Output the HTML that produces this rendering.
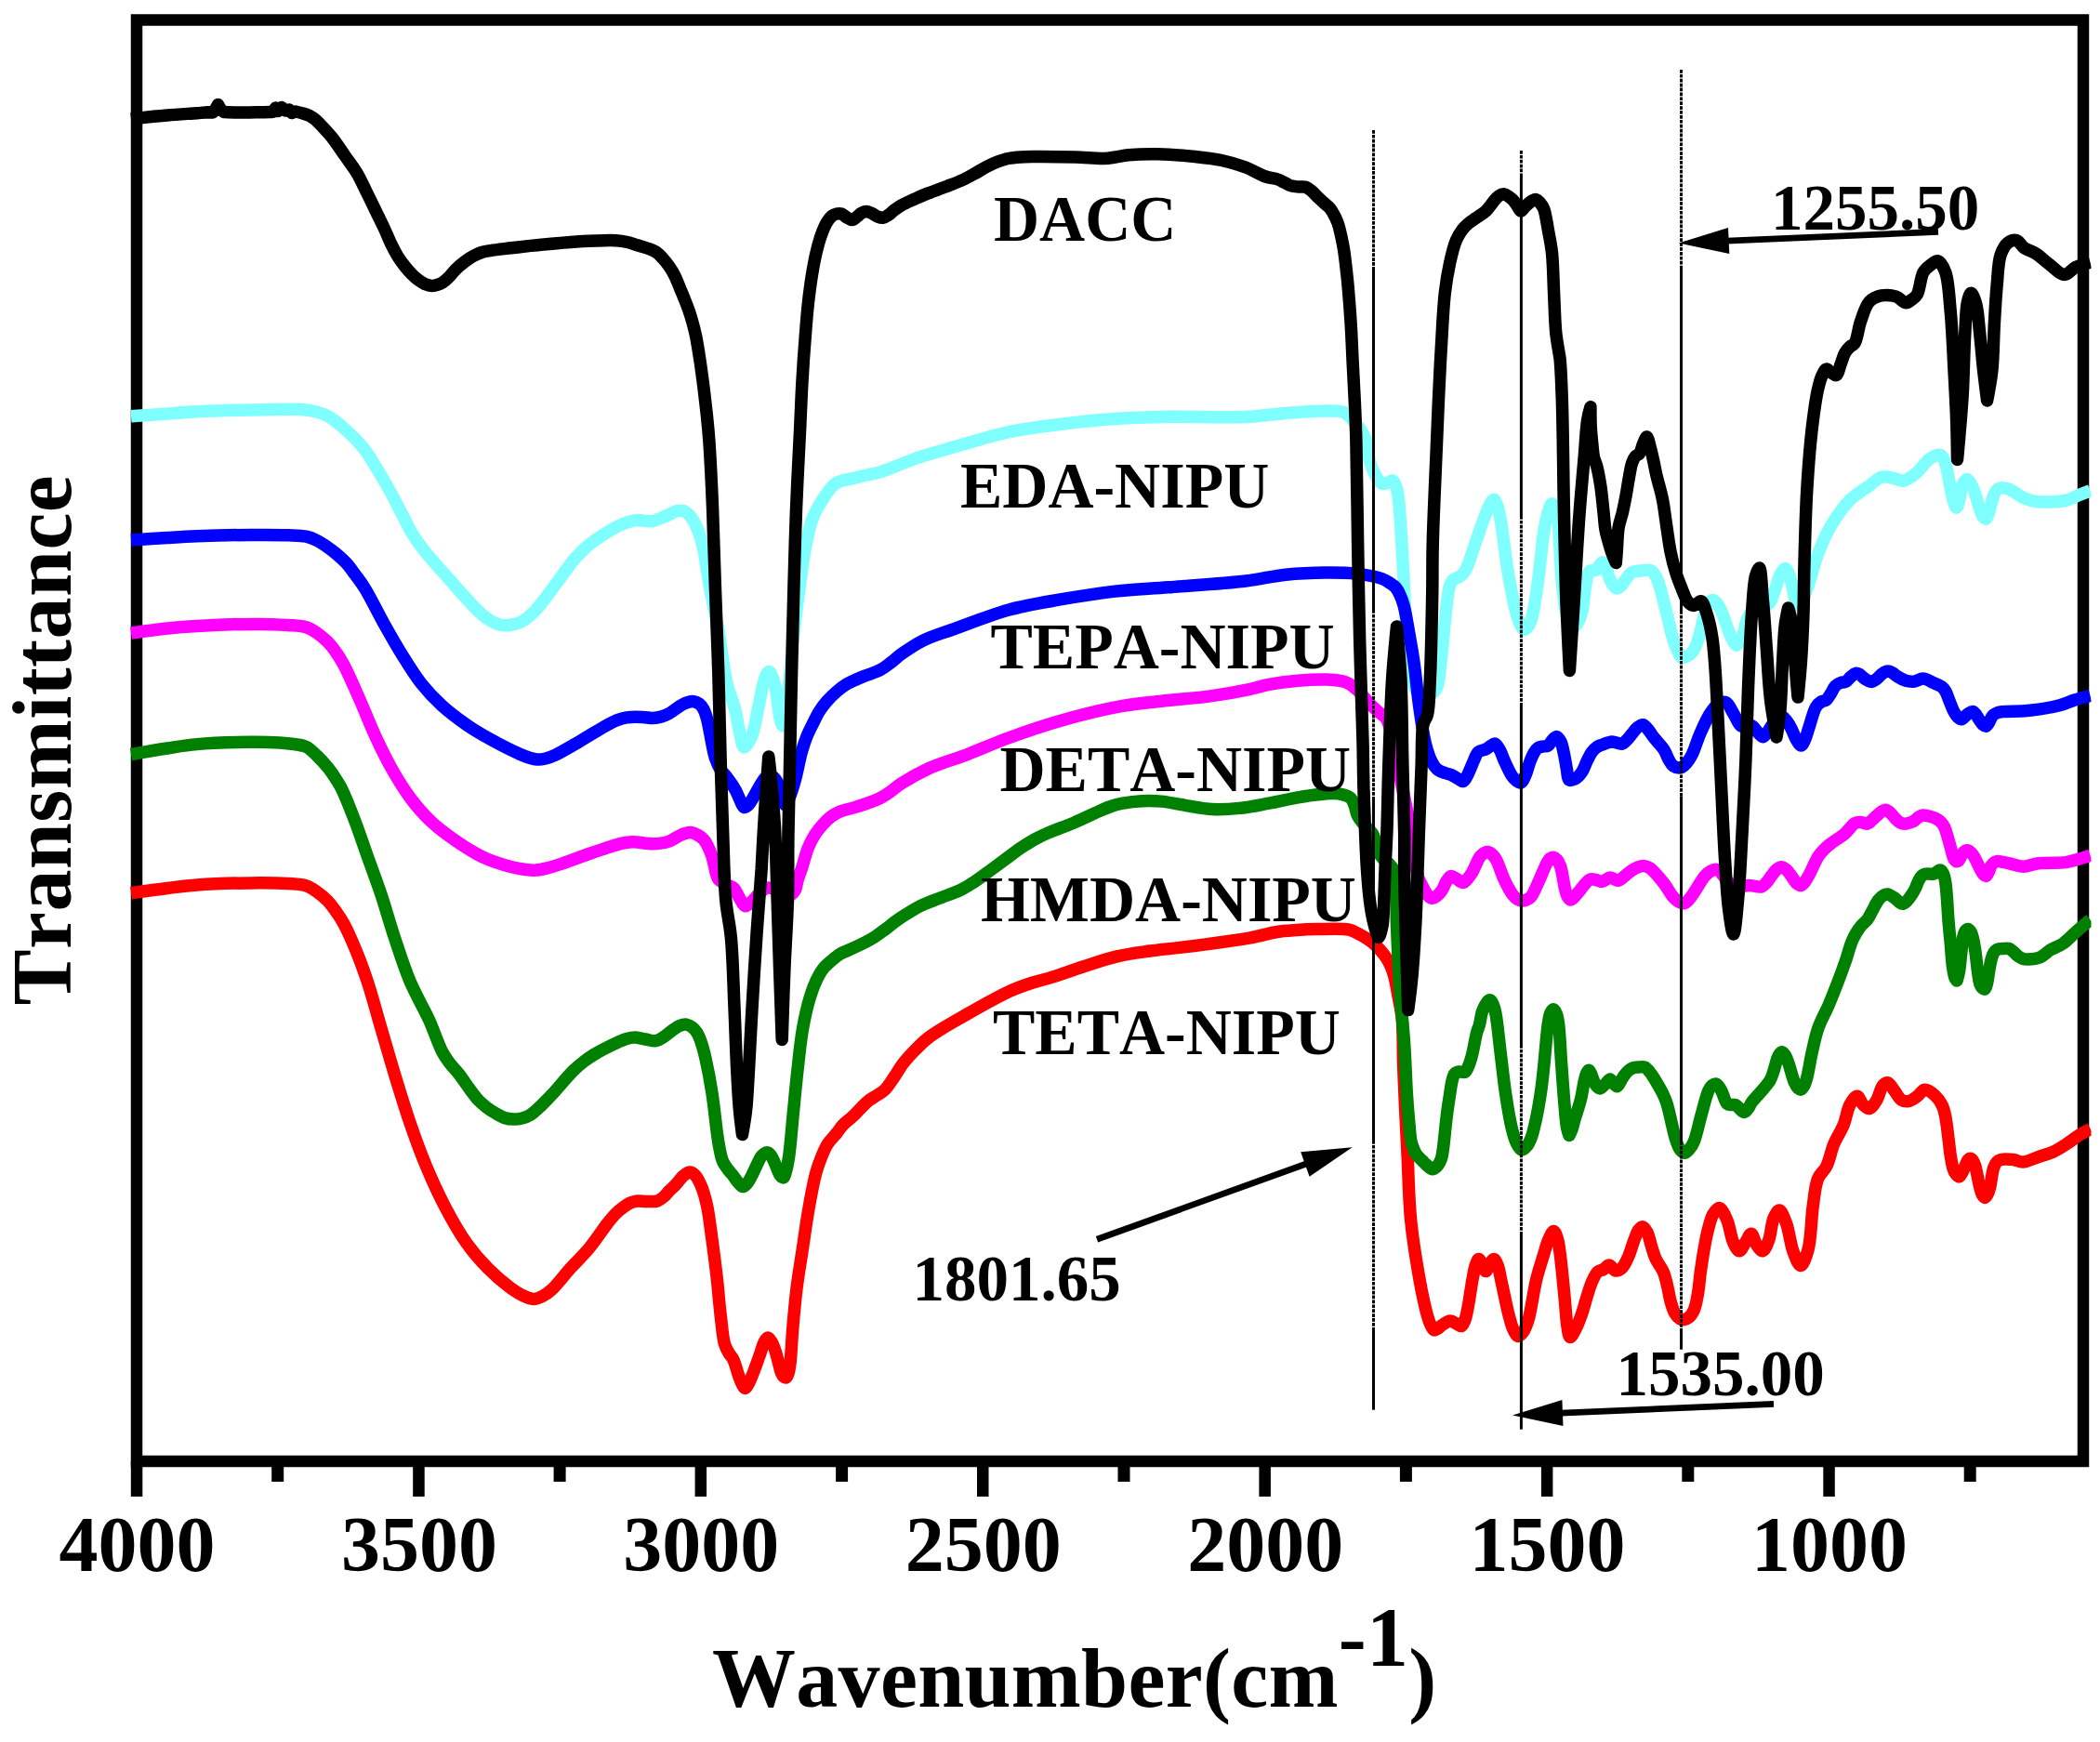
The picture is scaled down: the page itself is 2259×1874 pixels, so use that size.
<!DOCTYPE html><html><head><meta charset="utf-8"><title>FTIR</title><style>html,body{margin:0;padding:0;background:#fff}body{width:2259px;height:1874px;overflow:hidden}</style></head><body><svg width="2259" height="1874" viewBox="0 0 2259 1874" style="display:block">
<rect width="2259" height="1874" fill="#fff"/>
<rect x="147" y="21.5" width="2094" height="1550.5" fill="none" stroke="#000" stroke-width="12.5"/>
<rect x="140.8" y="1572" width="12.5" height="38" fill="#000"/>
<rect x="444.2" y="1572" width="12.5" height="38" fill="#000"/>
<rect x="747.6" y="1572" width="12.5" height="38" fill="#000"/>
<rect x="1051.0" y="1572" width="12.5" height="38" fill="#000"/>
<rect x="1354.4" y="1572" width="12.5" height="38" fill="#000"/>
<rect x="1657.9" y="1572" width="12.5" height="38" fill="#000"/>
<rect x="1961.3" y="1572" width="12.5" height="38" fill="#000"/>
<rect x="292.2" y="1572" width="13" height="22" fill="#000"/>
<rect x="595.6" y="1572" width="13" height="22" fill="#000"/>
<rect x="899.1" y="1572" width="13" height="22" fill="#000"/>
<rect x="1202.5" y="1572" width="13" height="22" fill="#000"/>
<rect x="1505.9" y="1572" width="13" height="22" fill="#000"/>
<rect x="1809.3" y="1572" width="13" height="22" fill="#000"/>
<rect x="2112.7" y="1572" width="13" height="22" fill="#000"/>
<g clip-path="url(#cl)">
<clipPath id="cl"><rect x="139" y="0" width="2110.5" height="1874"/></clipPath>
<path d="M141.0 447.8C141.0 447.8 167.7 445.9 180.0 445.0C191.1 444.2 199.6 443.3 211.8 442.7C228.1 441.9 250.1 441.3 269.2 441.0C288.3 440.7 314.8 439.8 326.6 440.7C331.9 441.1 334.2 441.6 338.0 442.5C341.9 443.4 345.9 444.5 349.6 446.2C353.3 447.9 356.7 450.1 360.0 452.5C363.4 454.9 366.5 457.7 369.7 460.5C373.1 463.5 376.7 466.7 380.0 470.0C383.4 473.4 386.9 477.0 389.8 480.6C392.5 483.9 394.7 487.0 397.0 490.5C399.5 494.2 401.3 497.5 404.1 502.1C408.1 508.7 413.8 518.1 418.5 526.5C423.4 535.3 428.4 545.3 432.9 553.8C436.8 561.3 440.0 568.5 444.0 575.0C447.7 581.0 450.8 585.3 455.8 591.6C463.1 600.9 475.1 614.0 484.5 624.6C493.3 634.5 504.0 646.7 510.4 653.3C514.0 657.0 516.0 659.0 519.0 661.5C521.8 663.8 524.7 666.0 527.6 667.7C530.2 669.3 532.8 670.6 535.5 671.5C538.1 672.3 540.8 672.7 543.4 672.8C546.0 672.9 548.4 672.5 551.0 672.0C553.7 671.5 556.5 670.9 559.2 669.7C562.2 668.4 565.2 666.2 568.0 664.0C570.9 661.7 573.2 659.7 576.4 656.2C581.9 650.2 589.9 639.1 596.5 630.3C603.3 621.4 610.7 610.2 616.6 603.1C620.8 598.1 624.1 594.7 628.0 591.0C631.7 587.5 634.8 584.9 639.6 581.5C646.4 576.7 658.6 569.1 665.4 565.7C669.6 563.6 672.5 562.6 676.0 561.5C679.2 560.5 682.4 559.5 685.5 559.4C688.4 559.3 691.1 560.3 694.0 560.5C696.9 560.7 699.8 561.1 702.7 560.6C705.8 560.0 709.0 558.2 712.0 557.0C714.8 555.9 717.4 554.7 720.0 553.5C722.4 552.4 724.5 550.7 727.0 550.0C729.5 549.3 732.6 548.9 735.0 549.6C737.4 550.3 739.5 552.0 741.5 554.0C743.8 556.3 745.8 559.7 747.6 563.0C749.5 566.6 751.0 570.7 752.5 575.0C754.1 579.8 755.3 584.0 756.7 590.5C759.0 600.9 761.0 617.7 763.6 631.8C766.3 646.7 769.9 661.6 772.8 677.8C776.0 695.8 778.4 720.1 782.0 735.2C784.4 745.4 787.7 751.8 790.0 760.4C792.4 769.3 793.8 780.1 795.8 788.0C797.3 794.1 798.1 803.6 800.4 804.0C802.5 804.3 806.1 797.7 808.4 792.6C812.0 784.4 813.8 769.2 816.4 758.1C818.8 747.8 820.6 734.2 823.3 728.3C824.6 725.4 826.1 722.3 827.5 722.5C829.6 722.7 832.0 731.3 833.7 737.5C836.3 746.9 837.2 766.9 839.4 774.2C840.4 777.5 841.5 781.1 842.5 781.0C844.9 780.6 846.7 751.3 848.6 735.2C850.7 717.2 852.3 695.9 854.3 677.8C856.1 661.6 858.0 647.1 860.1 631.8C862.2 616.5 864.3 599.2 867.0 585.9C869.1 575.4 870.8 566.4 874.0 558.0C876.8 550.6 880.5 544.2 884.5 538.0C888.5 531.9 893.6 524.2 897.9 520.8C900.7 518.6 903.2 517.9 906.0 517.0C908.9 516.0 911.7 515.9 915.1 515.1C919.5 514.1 924.9 512.7 930.0 511.5C935.4 510.3 941.1 509.6 946.7 507.9C952.7 506.1 958.9 503.4 965.0 501.0C971.3 498.6 976.3 496.2 984.0 493.5C995.4 489.6 1011.7 485.0 1027.1 480.6C1044.8 475.5 1065.2 468.9 1084.5 464.8C1103.5 460.8 1122.8 458.6 1142.0 456.2C1161.1 453.8 1180.2 451.8 1199.4 450.5C1218.5 449.2 1235.9 448.6 1256.8 448.2C1282.0 447.8 1316.8 449.6 1340.0 448.6C1356.7 447.8 1368.7 445.6 1383.1 444.5C1397.4 443.4 1414.6 441.8 1426.1 441.9C1433.8 442.0 1440.3 441.3 1445.5 443.5C1450.0 445.4 1453.2 449.9 1456.3 453.1C1458.9 455.8 1461.2 458.4 1463.0 461.0C1464.6 463.3 1465.8 465.5 1467.0 468.0C1468.2 470.5 1469.4 472.6 1470.3 476.0C1471.8 481.2 1471.7 490.2 1473.5 496.5C1475.1 502.1 1477.5 507.8 1480.0 512.0C1481.9 515.3 1484.0 519.2 1486.4 520.2C1488.1 520.9 1490.1 520.0 1492.0 519.5C1494.1 519.0 1496.7 516.4 1498.3 517.0C1500.1 517.7 1501.0 521.1 1502.0 524.0C1503.4 528.1 1503.9 532.6 1504.7 539.6C1506.4 553.8 1507.7 582.7 1509.0 604.2C1510.3 625.7 1511.0 648.3 1512.3 668.8C1513.5 687.6 1513.9 709.3 1516.6 722.6C1518.3 730.8 1519.5 737.6 1523.0 742.0C1525.8 745.4 1530.2 748.5 1533.8 748.5C1537.4 748.5 1542.0 745.8 1544.6 742.0C1548.7 736.0 1548.5 722.9 1550.0 711.9C1551.8 698.9 1552.6 682.8 1554.3 668.8C1555.9 655.5 1556.9 637.6 1559.6 630.0C1560.9 626.5 1562.3 624.4 1564.0 623.0C1565.3 622.0 1566.9 622.1 1568.3 621.4C1569.8 620.6 1571.2 619.8 1572.5 618.5C1574.1 617.0 1575.4 615.6 1576.9 612.8C1580.1 606.9 1584.0 592.7 1587.6 582.7C1591.2 572.6 1595.4 559.9 1598.4 552.5C1600.2 548.1 1601.3 544.7 1603.0 542.0C1604.2 540.0 1605.8 537.3 1607.0 537.4C1608.5 537.6 1609.9 541.9 1611.0 545.0C1612.6 549.3 1613.3 554.1 1614.5 561.1C1616.8 573.8 1619.2 598.1 1622.1 615.0C1624.7 630.2 1628.0 647.9 1630.7 658.0C1632.2 663.7 1633.3 667.5 1635.0 671.0C1636.3 673.6 1637.7 677.1 1639.3 677.4C1640.7 677.7 1642.7 675.7 1644.0 674.0C1645.7 671.8 1646.7 668.8 1647.9 664.5C1650.3 656.0 1652.4 639.7 1654.4 625.7C1656.8 609.3 1658.6 585.4 1660.8 571.9C1662.2 563.6 1663.2 557.5 1665.0 552.0C1666.3 548.0 1667.8 542.0 1669.5 541.8C1670.9 541.7 1672.9 545.2 1674.0 548.0C1675.7 552.3 1675.7 558.2 1676.5 566.0C1677.9 580.1 1678.5 608.6 1680.2 625.7C1681.5 638.7 1682.9 650.8 1685.0 660.0C1686.4 666.4 1687.5 675.1 1690.0 676.0C1691.6 676.6 1694.3 674.1 1696.0 672.0C1698.5 669.0 1700.3 663.5 1701.8 658.0C1703.8 650.6 1703.9 638.7 1705.5 630.9C1706.7 624.7 1707.1 617.1 1709.8 614.6C1711.5 613.1 1714.7 614.5 1716.4 613.5C1718.0 612.6 1718.7 610.5 1720.0 609.0C1721.3 607.5 1722.8 604.6 1724.0 604.7C1725.3 604.8 1726.5 607.9 1727.5 610.0C1728.8 612.7 1729.3 616.8 1730.6 620.0C1731.8 623.1 1733.3 626.7 1735.0 629.0C1736.3 630.8 1737.8 633.0 1739.3 633.1C1740.8 633.2 1742.6 631.3 1744.0 630.0C1745.5 628.5 1746.4 626.4 1748.0 624.4C1750.1 621.8 1752.6 617.3 1755.6 615.6C1758.3 614.1 1761.8 614.4 1765.0 614.0C1768.3 613.6 1772.7 612.5 1775.3 613.5C1777.4 614.3 1778.6 616.1 1780.0 618.0C1781.6 620.3 1782.6 622.7 1784.0 626.6C1786.7 633.9 1789.9 648.6 1792.7 659.3C1795.4 669.6 1797.9 682.2 1800.4 689.8C1802.0 694.5 1803.4 697.9 1805.0 701.0C1806.3 703.5 1807.3 706.6 1809.1 707.3C1810.7 708.0 1813.1 706.9 1815.0 706.0C1817.2 704.9 1819.4 702.8 1821.1 700.7C1822.8 698.5 1823.8 695.9 1825.0 693.0C1826.4 689.5 1827.5 685.5 1828.7 681.1C1830.2 675.7 1831.4 668.5 1833.0 663.0C1834.4 658.3 1835.5 653.1 1837.5 650.0C1838.9 647.9 1840.7 645.6 1842.3 645.5C1843.8 645.4 1845.6 647.4 1847.0 649.0C1848.8 651.0 1850.0 653.6 1851.6 657.1C1854.3 662.9 1857.9 675.1 1860.4 681.1C1861.9 684.8 1863.0 687.7 1864.5 690.0C1865.6 691.7 1866.8 694.2 1868.0 694.2C1869.3 694.2 1870.8 691.8 1872.0 690.0C1873.5 687.7 1874.5 684.5 1875.7 681.1C1877.2 676.6 1877.6 669.9 1880.0 665.0C1882.4 660.2 1886.0 654.3 1890.0 652.0C1893.4 650.1 1899.1 652.3 1901.8 650.6C1904.0 649.2 1904.7 646.7 1906.0 644.0C1907.7 640.5 1909.0 635.4 1910.6 631.0C1912.2 626.4 1913.5 620.5 1915.5 617.0C1916.9 614.6 1918.9 611.4 1920.4 611.5C1921.9 611.6 1923.3 615.4 1924.5 618.0C1926.0 621.5 1926.9 626.5 1928.0 630.9C1929.1 635.5 1929.7 641.4 1931.0 645.0C1931.9 647.5 1932.8 650.8 1934.0 651.0C1935.1 651.2 1936.7 649.0 1938.0 647.0C1940.3 643.5 1942.5 637.2 1944.9 630.7C1948.3 621.4 1951.3 607.2 1955.4 596.4C1959.3 586.2 1963.1 576.7 1968.6 567.3C1974.4 557.3 1982.1 546.1 1989.8 538.3C1996.4 531.6 2004.7 527.0 2010.9 522.5C2015.8 519.0 2019.5 514.4 2024.1 513.2C2028.3 512.1 2033.2 513.8 2037.3 514.5C2041.0 515.2 2044.2 517.7 2047.8 517.2C2052.1 516.6 2056.8 512.7 2061.0 509.3C2065.7 505.5 2070.3 498.1 2074.2 494.8C2076.7 492.7 2078.7 491.4 2081.0 490.5C2083.1 489.7 2085.7 488.8 2087.4 489.5C2089.0 490.1 2090.0 492.1 2091.0 494.0C2092.4 496.6 2093.0 499.8 2094.0 504.0C2095.7 510.7 2097.7 523.6 2099.3 530.4C2100.3 534.7 2100.9 538.1 2102.0 541.0C2102.8 543.1 2103.7 546.2 2104.6 546.2C2105.6 546.2 2106.7 541.8 2107.5 539.0C2108.6 535.2 2108.8 528.9 2109.9 525.1C2110.7 522.3 2111.6 519.6 2113.0 518.0C2114.0 516.9 2115.4 515.7 2116.5 515.9C2117.9 516.2 2119.3 518.9 2120.5 521.0C2122.0 523.6 2123.0 526.6 2124.4 530.4C2126.4 536.0 2129.2 546.9 2131.0 551.5C2131.9 553.8 2132.4 555.4 2133.5 556.5C2134.3 557.3 2135.4 558.3 2136.3 558.1C2137.5 557.7 2138.5 554.5 2139.5 552.0C2140.9 548.4 2141.6 542.4 2142.9 538.3C2144.0 534.9 2144.9 531.3 2146.5 529.0C2147.7 527.2 2148.9 525.7 2150.8 525.1C2153.4 524.3 2157.6 525.1 2161.3 526.4C2166.2 528.1 2172.0 533.5 2177.2 535.7C2181.7 537.6 2185.0 538.9 2190.4 539.6C2198.6 540.6 2213.9 540.1 2222.1 538.3C2227.6 537.1 2230.9 534.8 2235.3 533.0C2239.7 531.3 2248.5 527.8 2248.5 527.8" fill="none" stroke="#80ffff" stroke-width="13.5" stroke-linejoin="round" />
<path d="M141.0 581.0C141.0 581.0 167.7 579.2 180.0 578.5C191.1 577.8 199.6 577.2 211.8 576.7C228.1 576.1 251.7 575.6 269.2 575.5C284.0 575.4 298.9 575.4 310.0 575.8C317.7 576.1 323.9 576.0 329.5 577.2C333.9 578.2 337.3 579.7 341.0 581.5C344.9 583.4 348.9 586.2 352.5 588.7C355.9 591.0 358.8 593.3 362.0 596.0C365.5 599.0 369.3 602.3 372.6 605.9C376.0 609.6 378.8 613.7 382.0 618.0C385.5 622.7 388.8 626.9 392.7 633.2C398.6 642.8 406.0 658.4 412.8 670.5C419.4 682.3 426.0 694.0 432.9 705.0C439.4 715.5 445.7 725.9 453.0 735.1C460.0 744.0 467.7 752.1 475.9 759.5C484.0 766.9 492.8 773.4 501.8 779.6C510.9 785.9 520.8 791.6 530.5 796.9C540.0 802.1 552.1 808.1 559.2 811.2C563.3 813.0 565.8 814.0 569.0 815.0C572.0 815.9 574.8 816.8 577.8 817.0C580.8 817.2 583.9 816.7 587.0 816.0C590.2 815.3 592.7 814.4 596.5 812.7C603.1 809.7 613.5 803.4 622.3 798.3C631.7 792.9 643.5 785.3 651.1 781.1C655.9 778.5 659.0 776.6 663.0 775.0C666.7 773.6 669.9 772.5 674.0 771.9C679.1 771.1 686.2 771.3 691.3 771.5C695.3 771.6 698.6 772.6 702.0 772.5C705.2 772.4 708.4 771.9 711.4 771.0C714.4 770.1 716.9 769.0 720.0 767.3C724.2 765.0 730.0 760.1 733.8 758.1C736.2 756.8 737.9 756.1 740.0 755.5C742.1 754.9 744.4 754.4 746.4 754.7C748.4 755.0 750.3 755.8 752.0 757.0C753.8 758.3 755.4 760.4 756.7 762.7C758.3 765.5 759.4 769.2 760.5 773.0C761.8 777.5 762.4 782.2 763.6 788.0C765.2 795.8 767.0 808.2 769.4 815.5C771.1 820.6 772.7 824.4 775.0 828.0C777.0 831.2 779.6 833.0 782.0 836.2C785.0 840.1 788.8 845.6 791.2 850.0C793.2 853.7 794.4 857.3 796.0 860.5C797.4 863.4 798.6 867.9 800.4 868.4C801.8 868.8 803.6 867.2 805.0 866.0C806.8 864.4 807.9 862.0 809.6 859.2C812.2 855.0 816.0 847.2 818.7 843.1C820.5 840.4 821.8 838.1 823.5 836.5C824.9 835.2 826.4 833.9 827.9 833.9C829.4 833.9 831.1 835.2 832.5 836.5C834.2 838.1 835.8 840.3 837.1 843.1C839.0 847.2 840.1 855.0 841.7 859.2C842.8 862.0 843.9 866.0 845.1 866.0C846.6 866.0 848.5 859.9 850.0 856.0C852.0 851.0 853.7 845.1 855.5 838.5C857.8 829.9 860.0 817.2 862.4 808.7C864.2 802.3 865.9 797.2 868.0 792.0C869.9 787.2 872.2 783.0 874.4 778.5C876.7 774.0 878.9 769.1 881.5 765.0C884.0 761.1 886.6 757.7 889.6 754.3C892.7 750.7 896.4 747.1 900.0 744.0C903.3 741.1 906.3 738.7 910.3 736.3C915.3 733.3 922.0 730.6 928.0 728.0C934.1 725.4 941.4 723.6 946.7 720.8C951.1 718.5 954.3 715.8 958.0 713.0C961.9 710.1 965.0 706.9 969.7 703.6C976.0 699.1 984.0 693.5 992.7 689.2C1002.8 684.2 1014.1 681.0 1027.1 676.3C1043.8 670.3 1065.2 661.5 1084.5 656.2C1103.5 651.0 1122.8 648.1 1142.0 644.7C1161.1 641.4 1180.2 638.3 1199.4 636.1C1218.5 634.0 1235.9 633.4 1256.8 631.8C1282.0 629.8 1316.8 627.8 1340.0 625.0C1356.8 623.0 1368.7 619.7 1383.1 618.2C1397.4 616.7 1412.8 616.1 1426.1 616.0C1437.6 615.9 1448.1 615.9 1458.4 617.1C1468.1 618.2 1480.1 620.3 1486.4 622.5C1489.9 623.7 1491.5 624.9 1494.0 626.5C1496.6 628.1 1499.5 629.9 1501.5 632.2C1503.5 634.4 1504.7 637.1 1506.0 640.0C1507.6 643.4 1508.8 646.8 1510.1 651.6C1512.1 658.9 1513.8 669.9 1515.5 679.6C1517.4 690.0 1519.2 700.2 1520.9 711.9C1522.9 725.7 1524.4 742.9 1526.3 757.0C1528.0 769.4 1529.9 783.0 1531.7 792.0C1532.8 797.7 1533.7 801.7 1535.0 806.0C1536.1 809.8 1537.3 813.4 1538.7 816.5C1539.9 819.1 1541.1 821.5 1542.5 823.5C1543.8 825.3 1545.0 826.8 1546.7 828.1C1548.7 829.6 1551.5 830.6 1554.0 831.5C1556.4 832.4 1559.1 832.7 1561.5 833.7C1563.8 834.7 1565.9 836.3 1568.0 837.5C1570.0 838.6 1572.2 840.9 1573.8 840.6C1575.3 840.3 1576.4 837.8 1577.5 836.0C1578.9 833.8 1579.9 830.9 1581.2 828.1C1582.6 825.0 1584.0 821.2 1585.5 818.0C1587.0 814.9 1587.9 811.0 1590.2 809.0C1592.3 807.1 1596.1 807.2 1598.4 806.0C1600.4 805.0 1601.8 803.5 1603.5 802.5C1605.0 801.6 1606.7 799.8 1608.1 800.1C1609.9 800.5 1611.5 803.6 1613.0 806.0C1614.9 809.1 1615.9 813.2 1617.8 817.4C1620.2 822.6 1623.6 830.6 1626.4 834.6C1628.1 837.1 1629.7 838.7 1631.5 840.0C1633.0 841.1 1634.7 842.5 1636.1 842.1C1638.0 841.5 1639.5 837.2 1641.0 834.0C1642.9 830.0 1644.1 823.8 1645.8 819.5C1647.2 816.0 1648.4 812.7 1650.0 810.0C1651.3 807.8 1652.6 805.7 1654.4 804.5C1656.0 803.4 1658.2 803.4 1660.0 803.0C1661.8 802.6 1663.7 803.2 1665.2 802.3C1667.1 801.2 1668.3 797.7 1670.0 796.0C1671.5 794.6 1673.3 792.4 1674.8 792.6C1676.4 792.8 1677.8 795.7 1679.0 798.0C1680.6 801.3 1681.4 806.3 1682.4 810.9C1683.6 816.2 1684.5 822.9 1685.5 828.0C1686.3 832.0 1685.9 837.6 1687.8 838.9C1689.2 839.9 1692.0 839.0 1694.0 838.0C1696.7 836.7 1699.7 833.3 1701.8 830.3C1704.1 827.1 1705.2 822.6 1707.0 819.0C1708.8 815.5 1710.4 811.5 1712.5 808.8C1714.2 806.6 1716.1 804.8 1718.0 803.5C1719.7 802.4 1721.2 802.0 1723.3 801.2C1726.2 800.1 1730.5 798.2 1734.1 798.0C1737.7 797.8 1742.0 800.8 1744.8 800.1C1747.0 799.6 1748.3 797.6 1750.0 796.0C1751.9 794.1 1753.7 791.6 1755.6 789.4C1757.5 787.1 1759.3 784.2 1761.5 782.5C1763.3 781.1 1765.6 779.4 1767.4 779.7C1769.4 780.0 1771.2 782.9 1773.0 785.0C1775.2 787.5 1776.9 790.6 1779.3 793.7C1782.3 797.6 1787.3 802.4 1790.0 806.6C1792.3 810.1 1793.2 813.9 1795.0 817.0C1796.6 819.6 1797.8 822.6 1800.0 824.0C1802.1 825.4 1805.5 826.2 1807.9 825.7C1810.2 825.2 1812.1 823.0 1814.0 821.0C1816.2 818.7 1817.9 816.2 1819.8 812.5C1822.9 806.7 1825.7 796.3 1829.1 788.7C1832.3 781.4 1835.8 773.2 1839.6 767.6C1842.5 763.2 1845.6 758.8 1848.9 757.0C1851.4 755.6 1854.5 754.7 1856.8 755.7C1859.9 757.1 1862.1 763.5 1864.7 767.6C1867.4 771.9 1869.8 778.9 1872.7 780.8C1874.4 781.9 1876.1 781.5 1878.0 781.5C1880.1 781.5 1882.5 780.0 1884.5 780.8C1886.9 781.7 1888.9 785.9 1891.0 788.0C1892.8 789.8 1894.7 792.8 1896.4 792.7C1898.0 792.6 1899.5 789.8 1901.0 788.0C1902.7 785.9 1904.1 783.2 1905.7 780.8C1907.4 778.4 1909.1 775.3 1911.0 773.5C1912.6 772.0 1914.5 770.1 1916.2 770.2C1918.0 770.4 1919.9 773.0 1921.5 775.0C1923.4 777.3 1925.1 780.3 1926.8 783.4C1928.7 786.9 1930.0 791.7 1932.0 795.0C1933.6 797.7 1935.8 801.9 1937.4 801.9C1938.9 801.9 1940.3 798.5 1941.5 796.0C1943.2 792.5 1944.3 787.5 1946.0 782.5C1948.2 776.1 1950.6 765.2 1953.5 760.5C1955.2 757.8 1957.0 756.3 1959.0 755.0C1960.7 753.9 1962.9 754.2 1964.5 753.0C1966.5 751.5 1967.9 748.5 1969.5 746.0C1971.2 743.4 1972.5 739.7 1974.5 737.7C1976.1 736.1 1978.1 735.2 1980.0 734.5C1981.8 733.8 1983.8 734.3 1985.5 733.4C1987.5 732.3 1989.1 729.6 1991.0 728.0C1992.7 726.6 1994.6 724.6 1996.3 724.3C1997.7 724.1 1999.2 724.8 2000.5 725.5C2001.9 726.3 2002.9 727.8 2004.3 728.9C2005.7 730.0 2007.4 731.2 2009.0 732.0C2010.5 732.7 2012.0 733.6 2013.5 733.5C2015.0 733.4 2016.5 732.1 2018.0 731.0C2019.6 729.8 2021.2 727.9 2022.7 726.6C2024.0 725.5 2025.1 724.3 2026.5 723.5C2027.8 722.8 2029.2 722.0 2030.7 722.0C2032.4 722.0 2034.3 723.1 2036.0 724.0C2037.8 725.0 2039.1 726.6 2041.1 727.8C2043.6 729.4 2047.1 731.4 2050.2 732.3C2053.2 733.1 2056.4 733.3 2059.4 733.0C2062.5 732.6 2065.4 730.0 2068.6 730.1C2072.2 730.2 2076.5 733.0 2080.1 734.6C2083.4 736.1 2087.1 737.4 2089.3 739.2C2091.0 740.6 2091.9 742.1 2093.0 744.0C2094.3 746.2 2095.0 748.9 2096.2 751.9C2097.8 755.8 2100.0 762.1 2101.9 765.6C2103.2 768.1 2104.5 770.1 2106.0 771.5C2107.2 772.6 2108.5 773.8 2110.0 773.7C2112.1 773.5 2114.6 769.3 2116.9 767.9C2118.8 766.8 2120.8 765.1 2122.6 765.6C2125.1 766.3 2127.6 772.2 2129.5 774.8C2130.9 776.6 2131.7 778.4 2133.0 779.5C2134.0 780.4 2135.4 781.5 2136.4 781.3C2137.6 781.1 2138.5 779.0 2139.5 777.5C2140.8 775.5 2141.7 772.0 2143.3 770.2C2144.6 768.7 2146.3 767.8 2148.0 767.0C2149.7 766.2 2151.0 766.0 2153.6 765.6C2159.3 764.8 2171.5 765.5 2181.2 764.5C2192.1 763.4 2206.4 761.2 2215.6 758.8C2222.1 757.1 2226.2 754.7 2231.7 753.0C2237.2 751.3 2248.5 748.5 2248.5 748.5" fill="none" stroke="#0000ff" stroke-width="13.5" stroke-linejoin="round" />
<path d="M141.0 681.0C141.0 681.0 167.6 677.3 180.0 676.0C191.1 674.8 199.4 674.1 211.8 673.4C229.3 672.4 257.0 671.4 275.0 671.4C288.4 671.4 300.0 671.8 310.0 672.5C317.5 673.1 324.0 673.1 329.5 674.8C334.0 676.2 337.3 678.5 341.0 681.0C345.0 683.7 349.1 687.2 352.5 690.6C355.7 693.9 358.3 697.2 361.0 701.0C364.0 705.2 366.5 709.1 369.7 715.0C374.7 724.3 381.3 739.7 386.9 752.4C392.7 765.5 398.2 779.8 404.1 792.6C409.7 804.6 415.1 815.9 421.4 827.0C427.6 837.9 434.2 848.9 441.5 858.6C448.5 867.9 456.1 876.7 464.4 884.4C472.4 891.9 481.3 898.3 490.3 904.5C499.4 910.8 508.9 917.1 519.0 921.8C529.0 926.5 542.2 930.5 550.6 932.7C555.9 934.1 559.6 934.7 564.0 935.3C568.2 935.8 572.2 936.4 576.4 936.1C580.8 935.8 585.4 934.6 590.0 933.5C594.9 932.3 599.2 930.9 605.1 928.9C613.7 926.0 626.1 921.1 636.7 917.5C647.2 913.9 661.0 909.1 668.3 907.4C672.1 906.5 674.1 906.2 677.0 906.0C679.8 905.8 682.5 905.8 685.5 906.0C689.1 906.2 693.2 907.3 697.0 907.5C700.8 907.7 704.7 907.8 708.5 907.4C712.4 907.0 716.3 906.4 720.0 905.0C723.8 903.6 727.9 900.5 731.0 899.0C733.3 897.9 735.0 897.1 737.0 896.5C739.0 895.9 740.9 895.3 743.0 895.5C745.3 895.7 747.8 896.8 750.0 898.0C752.3 899.2 754.8 900.8 756.7 902.8C758.7 904.9 760.0 907.7 761.5 910.5C763.1 913.7 764.6 917.1 765.9 921.2C767.6 926.5 769.1 935.5 770.5 940.0C771.3 942.6 771.5 944.2 772.8 945.9C774.4 947.9 777.4 949.5 780.0 951.0C782.7 952.6 786.4 952.9 788.9 955.1C791.8 957.7 793.5 963.2 795.8 966.6C797.7 969.5 799.4 974.1 801.5 974.6C803.1 975.0 804.9 973.2 806.5 972.0C808.4 970.6 809.9 968.6 811.8 966.6C814.0 964.3 816.5 961.0 819.0 959.0C821.1 957.3 823.1 955.5 825.6 955.1C828.3 954.7 832.3 956.0 834.8 957.4C837.0 958.6 838.4 960.9 840.0 962.5C841.4 963.9 842.4 966.3 844.0 966.6C845.7 966.9 848.2 964.9 850.0 963.5C852.0 961.9 854.2 959.9 855.5 957.4C857.0 954.5 856.9 950.6 858.0 947.0C859.2 943.0 860.8 939.2 862.4 934.4C864.5 928.0 866.7 918.5 869.3 912.0C871.5 906.7 873.8 902.3 876.5 898.0C879.1 893.9 882.2 890.1 885.3 886.7C888.1 883.6 890.9 880.8 894.0 878.5C897.0 876.3 899.9 874.6 903.7 873.0C908.3 871.1 913.9 870.4 920.0 868.4C927.9 865.9 939.8 862.0 946.7 858.6C951.4 856.3 954.3 854.1 958.0 851.5C961.9 848.8 964.8 845.9 969.7 842.8C977.0 838.1 987.7 831.9 998.4 827.0C1011.1 821.2 1027.2 816.7 1041.5 811.2C1055.9 805.7 1069.0 799.6 1084.5 794.0C1102.2 787.5 1122.1 780.6 1142.0 775.0C1163.0 769.0 1188.1 762.9 1207.6 759.4C1223.0 756.6 1234.7 755.9 1249.5 754.2C1266.0 752.3 1285.4 751.2 1301.9 748.9C1316.7 746.9 1332.3 744.0 1343.8 741.6C1352.0 739.9 1357.1 737.9 1364.8 736.4C1374.2 734.6 1385.7 733.1 1396.2 732.2C1406.6 731.3 1418.2 730.6 1427.6 731.1C1435.3 731.5 1442.8 732.0 1448.6 734.3C1453.3 736.2 1456.4 739.1 1460.2 742.5C1464.7 746.5 1469.4 752.9 1473.5 757.1C1476.9 760.5 1480.0 763.4 1483.0 766.0C1485.7 768.3 1488.8 769.7 1490.7 772.2C1492.6 774.7 1493.4 777.6 1494.5 781.0C1495.9 785.5 1496.9 791.5 1498.0 797.0C1499.2 802.8 1500.1 808.0 1501.5 815.0C1503.5 824.8 1506.5 837.9 1509.0 850.0C1511.7 862.9 1514.8 877.1 1517.0 890.0C1519.1 902.0 1520.3 915.0 1522.0 925.0C1523.3 932.6 1524.3 939.9 1526.0 945.0C1527.2 948.4 1528.6 950.3 1530.0 953.0C1531.5 955.9 1533.1 959.7 1535.0 962.0C1536.5 963.9 1538.3 966.0 1540.1 966.3C1541.8 966.6 1543.8 965.2 1545.5 964.0C1547.5 962.6 1549.3 960.5 1550.9 958.2C1552.9 955.4 1554.2 950.8 1556.0 948.0C1557.5 945.8 1558.8 942.9 1560.7 942.5C1562.5 942.1 1564.9 944.4 1567.0 945.5C1569.2 946.7 1571.7 949.7 1573.8 949.5C1575.7 949.3 1577.4 946.7 1579.0 945.0C1580.7 943.1 1581.9 941.3 1583.6 938.6C1586.2 934.3 1589.5 924.6 1592.4 921.1C1594.0 919.2 1595.4 918.2 1597.0 917.5C1598.3 916.9 1599.8 916.4 1601.1 916.7C1602.6 917.0 1604.2 918.2 1605.5 919.5C1607.1 921.0 1608.3 922.8 1609.8 925.5C1612.5 930.4 1615.4 940.8 1618.6 947.3C1621.3 953.0 1624.5 959.0 1627.3 962.6C1629.1 964.9 1630.7 966.4 1632.5 967.5C1634.0 968.4 1635.5 969.0 1637.1 969.1C1638.7 969.2 1640.4 968.7 1642.0 968.0C1643.7 967.3 1645.3 966.5 1646.9 964.7C1649.8 961.4 1652.8 953.3 1655.6 947.3C1658.6 941.0 1662.0 931.6 1664.4 927.6C1665.6 925.6 1666.3 924.4 1667.5 923.5C1668.5 922.7 1669.7 922.1 1670.9 922.2C1672.2 922.4 1673.8 923.7 1675.0 925.0C1676.5 926.7 1677.5 928.8 1678.6 932.0C1680.7 937.9 1682.3 952.3 1684.0 958.2C1684.9 961.2 1685.4 963.3 1686.5 965.0C1687.3 966.3 1688.3 967.9 1689.5 968.0C1690.9 968.1 1692.9 965.5 1694.5 964.0C1696.2 962.3 1697.3 960.5 1699.3 958.2C1702.2 954.9 1706.7 947.6 1710.2 946.2C1712.4 945.3 1714.4 946.2 1716.5 946.5C1718.7 946.9 1720.9 948.6 1723.3 948.4C1726.1 948.1 1729.1 944.2 1732.0 944.0C1734.9 943.8 1738.1 947.6 1740.7 947.3C1743.0 947.0 1744.9 944.6 1747.0 943.0C1749.3 941.3 1751.4 939.2 1753.8 937.5C1756.2 935.8 1758.9 934.0 1761.5 933.0C1764.0 932.1 1766.8 931.4 1769.1 931.6C1771.2 931.8 1773.2 932.9 1775.0 934.0C1776.9 935.2 1778.1 936.6 1780.0 938.6C1783.0 941.8 1787.6 947.2 1790.9 951.6C1794.1 955.9 1796.8 961.4 1799.6 964.7C1801.6 967.0 1803.4 968.8 1805.5 970.0C1807.4 971.1 1809.6 972.2 1811.5 971.8C1813.5 971.4 1815.2 969.4 1817.0 967.5C1819.3 965.0 1821.3 961.4 1823.8 957.8C1826.9 953.2 1831.0 945.6 1834.3 942.0C1836.4 939.6 1838.4 938.1 1840.5 937.0C1842.3 936.0 1844.4 935.1 1846.2 935.4C1847.9 935.7 1849.5 937.1 1851.0 938.5C1852.7 940.1 1853.8 942.5 1855.5 944.6C1857.5 947.0 1860.1 950.2 1862.5 952.0C1864.5 953.5 1866.6 955.0 1868.7 955.2C1870.8 955.4 1872.8 953.9 1875.0 953.5C1877.2 953.0 1879.2 952.6 1881.9 952.5C1885.6 952.4 1891.8 954.9 1895.1 953.8C1897.5 953.0 1898.8 950.8 1900.5 949.0C1902.4 947.0 1903.9 944.3 1905.7 942.0C1907.4 939.8 1909.1 937.1 1911.0 935.5C1912.6 934.2 1914.5 932.7 1916.2 932.7C1918.0 932.7 1919.9 934.2 1921.5 935.5C1923.4 937.1 1925.0 939.7 1926.8 942.0C1928.7 944.5 1930.4 948.2 1932.5 950.0C1934.0 951.3 1935.9 952.7 1937.4 952.5C1939.1 952.2 1940.6 949.8 1942.0 948.0C1943.7 945.7 1945.0 943.0 1946.8 939.7C1949.4 934.8 1952.8 926.1 1956.0 921.3C1958.3 917.8 1960.5 915.5 1963.0 913.0C1965.4 910.6 1967.8 908.8 1970.8 906.5C1974.5 903.7 1980.3 900.5 1983.6 897.7C1986.1 895.6 1987.6 893.5 1989.5 891.5C1991.4 889.5 1992.9 886.8 1995.1 885.6C1997.1 884.5 1999.7 884.4 2002.0 884.5C2004.3 884.6 2006.9 886.6 2008.9 886.2C2010.7 885.8 2012.0 883.8 2013.5 882.5C2015.1 881.1 2016.5 879.7 2018.1 878.2C2019.8 876.7 2021.7 874.7 2023.5 873.5C2025.1 872.5 2026.8 871.2 2028.4 871.3C2030.1 871.4 2031.9 873.1 2033.5 874.5C2035.4 876.1 2037.0 878.7 2038.8 880.5C2040.5 882.2 2042.2 884.1 2044.0 885.0C2045.6 885.8 2047.4 886.2 2049.1 886.2C2050.9 886.2 2052.8 885.6 2054.5 885.0C2056.2 884.4 2057.9 883.8 2059.4 882.8C2061.0 881.8 2062.4 880.0 2064.0 879.0C2065.5 878.1 2066.9 877.2 2068.6 877.0C2070.5 876.8 2072.8 877.5 2075.0 878.0C2077.4 878.6 2080.2 879.4 2082.4 880.5C2084.3 881.5 2086.0 882.5 2087.5 884.0C2089.1 885.6 2090.3 887.1 2091.6 889.7C2093.7 894.0 2095.5 902.1 2097.3 908.0C2099.0 913.5 2100.3 921.2 2101.9 924.1C2102.6 925.4 2103.2 926.1 2104.0 926.5C2104.7 926.8 2105.7 926.9 2106.5 926.4C2108.1 925.4 2109.6 920.3 2111.1 918.4C2112.1 917.1 2112.9 916.1 2114.0 915.5C2114.9 915.0 2115.9 914.7 2116.9 914.9C2118.1 915.2 2119.4 916.4 2120.5 917.5C2121.7 918.7 2122.5 919.9 2123.7 921.8C2125.7 925.0 2128.7 932.2 2130.6 935.6C2131.7 937.7 2132.4 939.3 2133.5 940.5C2134.4 941.4 2135.5 942.7 2136.4 942.5C2137.4 942.3 2138.2 940.1 2139.0 938.5C2140.1 936.4 2140.8 932.9 2142.1 931.0C2143.1 929.5 2144.3 928.3 2145.5 927.5C2146.6 926.8 2147.5 926.5 2149.0 926.4C2151.7 926.3 2156.3 927.8 2160.5 928.7C2165.4 929.7 2171.2 932.2 2176.6 932.2C2181.9 932.2 2186.4 929.5 2192.6 928.7C2201.0 927.6 2214.7 928.7 2222.5 927.6C2227.6 926.9 2230.8 925.7 2235.0 924.5C2239.4 923.2 2248.5 920.0 2248.5 920.0" fill="none" stroke="#ff00ff" stroke-width="13.5" stroke-linejoin="round" />
<path d="M141.0 960.8C141.0 960.8 167.7 957.0 180.0 955.5C191.1 954.1 199.6 952.8 211.8 951.9C228.1 950.7 251.7 950.1 269.2 949.9C284.0 949.8 298.9 949.8 310.0 950.5C317.7 951.0 324.0 951.0 329.5 952.8C334.0 954.3 337.3 956.9 341.0 959.5C345.0 962.3 349.1 965.6 352.5 969.1C355.7 972.5 358.2 976.1 361.0 980.0C364.0 984.2 366.7 987.9 369.7 993.5C374.2 1001.7 379.7 1014.5 384.0 1025.1C388.3 1035.6 391.6 1044.9 395.5 1056.7C400.3 1071.2 405.1 1089.5 409.9 1105.9C414.7 1122.2 419.1 1138.0 424.2 1154.7C429.6 1172.4 435.5 1192.0 441.5 1209.3C447.0 1225.3 452.4 1240.3 458.7 1255.2C464.9 1269.9 471.5 1284.5 478.8 1298.3C485.9 1311.8 493.6 1325.6 501.8 1337.1C509.0 1347.3 516.7 1356.2 524.7 1364.3C532.1 1371.8 540.9 1379.3 547.7 1384.4C552.6 1388.1 556.5 1390.8 561.0 1393.0C565.1 1395.0 569.5 1397.3 573.5 1397.4C577.0 1397.5 580.3 1396.1 583.5 1394.5C587.0 1392.8 589.9 1390.7 593.6 1387.3C599.4 1382.0 606.9 1371.8 613.7 1364.3C620.3 1357.0 627.3 1350.6 633.8 1342.8C640.8 1334.4 648.5 1322.3 653.9 1315.5C657.3 1311.3 659.5 1308.4 662.5 1305.5C665.3 1302.8 668.4 1300.3 671.2 1298.3C673.5 1296.6 675.6 1295.1 678.0 1294.0C680.4 1293.0 682.8 1292.3 685.5 1292.0C688.7 1291.7 692.5 1292.5 696.0 1292.5C699.6 1292.5 703.9 1293.0 707.0 1292.0C709.7 1291.1 711.9 1289.3 714.0 1287.5C716.2 1285.6 717.9 1283.1 720.0 1281.0C722.2 1278.8 724.6 1276.9 726.9 1274.4C729.6 1271.6 732.2 1267.3 735.0 1265.0C737.3 1263.1 739.8 1261.0 742.0 1261.0C744.1 1261.0 746.2 1262.7 748.0 1264.5C750.3 1266.8 752.1 1271.0 753.7 1274.4C755.3 1277.8 756.3 1281.2 757.5 1285.0C758.8 1289.4 759.9 1293.4 761.0 1299.2C762.8 1308.3 764.4 1322.1 766.1 1334.3C767.9 1347.5 769.7 1361.8 771.3 1375.6C772.8 1389.4 773.9 1404.4 775.4 1416.9C776.7 1427.4 777.4 1438.9 779.5 1445.9C780.7 1450.1 782.3 1452.6 784.0 1455.5C785.5 1458.1 787.3 1459.4 788.8 1462.4C791.1 1467.0 793.1 1476.0 795.0 1481.0C796.3 1484.4 797.3 1487.3 798.5 1489.5C799.4 1491.1 800.2 1493.3 801.2 1493.4C802.3 1493.5 803.8 1490.9 805.0 1489.0C806.6 1486.4 807.9 1483.0 809.5 1478.9C811.9 1472.9 815.5 1462.6 817.8 1456.2C819.5 1451.5 820.3 1447.1 822.0 1444.0C823.2 1441.8 824.6 1439.0 826.0 1439.0C827.3 1439.0 828.8 1441.6 830.0 1443.5C831.7 1446.2 832.9 1449.8 834.3 1454.1C836.4 1460.2 838.6 1472.4 840.5 1476.9C841.4 1478.9 842.0 1480.2 843.0 1481.0C843.8 1481.6 844.9 1482.3 845.7 1482.0C846.7 1481.6 847.4 1479.3 848.0 1477.5C848.8 1475.1 849.2 1472.7 849.8 1468.6C851.0 1459.9 851.7 1441.1 852.9 1427.3C854.1 1413.5 855.3 1399.8 857.0 1386.0C858.7 1372.2 861.1 1358.4 863.2 1344.6C865.3 1330.8 867.0 1317.0 869.4 1303.3C871.8 1289.5 874.8 1272.7 877.7 1262.0C879.6 1255.0 881.3 1250.3 883.5 1245.0C885.5 1240.0 887.4 1235.3 890.1 1231.0C892.9 1226.7 897.1 1222.7 900.0 1219.0C902.5 1215.9 904.0 1213.1 906.6 1210.3C909.6 1207.1 914.0 1204.2 917.2 1201.2C920.1 1198.5 922.4 1195.8 925.2 1193.0C928.2 1190.0 931.3 1186.5 934.5 1184.0C937.3 1181.8 940.2 1180.4 943.0 1178.5C945.9 1176.6 949.0 1175.1 951.7 1172.5C955.0 1169.3 957.8 1164.5 961.0 1160.0C964.5 1155.0 967.8 1148.9 971.8 1143.7C975.8 1138.5 980.3 1133.7 985.0 1129.0C989.8 1124.1 993.7 1120.0 1000.5 1115.0C1011.0 1107.2 1029.1 1097.4 1043.6 1089.2C1057.8 1081.1 1074.6 1071.7 1086.6 1066.2C1094.8 1062.4 1100.8 1060.4 1108.0 1058.0C1115.2 1055.6 1121.6 1054.4 1129.7 1051.9C1140.1 1048.7 1153.1 1043.8 1165.0 1040.0C1177.0 1036.1 1189.3 1031.8 1201.5 1028.9C1213.3 1026.1 1225.1 1024.7 1237.0 1023.0C1249.0 1021.3 1259.1 1020.7 1273.2 1018.9C1293.1 1016.4 1326.5 1012.1 1345.0 1008.8C1356.8 1006.7 1364.8 1003.9 1373.7 1002.5C1381.3 1001.3 1387.9 1001.0 1395.0 1000.5C1402.2 1000.0 1408.7 999.7 1416.8 999.6C1427.0 999.5 1443.2 998.5 1451.2 1000.2C1455.8 1001.2 1458.5 1003.1 1461.7 1004.7C1464.7 1006.2 1467.3 1007.8 1470.0 1009.5C1472.7 1011.2 1475.1 1012.7 1477.8 1015.1C1481.3 1018.2 1486.0 1023.2 1489.0 1027.2C1491.5 1030.5 1493.3 1033.5 1495.0 1037.0C1496.8 1040.7 1498.1 1044.1 1499.4 1048.8C1501.3 1055.4 1502.8 1064.9 1504.3 1072.9C1505.8 1080.9 1507.4 1087.7 1508.3 1097.0C1509.5 1109.6 1509.0 1126.8 1509.5 1142.0C1510.0 1157.7 1510.8 1173.4 1511.5 1190.0C1512.3 1207.8 1513.2 1226.2 1514.2 1245.5C1515.2 1266.4 1515.5 1290.1 1517.5 1310.9C1519.3 1330.0 1522.2 1348.4 1525.1 1365.5C1527.7 1380.9 1531.2 1398.7 1533.8 1409.1C1535.3 1415.1 1536.3 1419.1 1538.0 1423.0C1539.3 1426.1 1540.8 1430.3 1542.6 1430.9C1543.9 1431.3 1545.6 1429.9 1547.0 1429.0C1548.5 1428.1 1549.5 1426.6 1551.3 1425.5C1553.6 1424.0 1557.3 1421.2 1560.0 1421.1C1562.2 1421.0 1564.0 1422.6 1566.0 1423.5C1568.0 1424.4 1570.4 1427.0 1572.0 1426.6C1573.6 1426.2 1574.5 1423.3 1575.5 1421.0C1576.9 1417.9 1577.5 1414.1 1578.6 1409.1C1580.3 1400.9 1582.4 1385.1 1584.0 1376.4C1585.1 1370.6 1585.7 1365.9 1587.0 1362.0C1588.0 1359.1 1589.3 1354.7 1590.6 1354.6C1591.8 1354.5 1593.3 1358.0 1594.5 1360.0C1595.9 1362.3 1596.9 1367.6 1598.2 1367.6C1599.5 1367.6 1601.0 1362.3 1602.5 1360.0C1603.9 1358.0 1605.5 1354.5 1606.9 1354.6C1608.4 1354.7 1609.9 1358.3 1611.0 1361.0C1612.7 1364.9 1613.2 1370.1 1614.6 1376.4C1616.9 1386.5 1620.6 1405.8 1623.3 1415.7C1625.0 1421.9 1626.0 1426.6 1628.0 1430.5C1629.5 1433.4 1631.2 1437.3 1633.1 1437.5C1634.8 1437.7 1636.9 1435.1 1638.5 1433.0C1640.8 1430.0 1642.2 1425.7 1644.0 1420.0C1647.1 1409.8 1649.6 1389.0 1652.7 1376.4C1655.1 1366.5 1658.0 1358.0 1660.4 1350.2C1662.4 1343.8 1663.8 1337.6 1666.0 1333.0C1667.6 1329.6 1669.7 1324.4 1671.3 1324.5C1672.9 1324.6 1674.4 1329.4 1675.5 1333.0C1677.2 1338.5 1677.8 1346.1 1678.9 1354.6C1680.4 1366.6 1682.0 1385.2 1683.3 1398.2C1684.3 1408.8 1684.7 1419.6 1686.0 1427.0C1686.8 1431.7 1687.4 1438.2 1689.0 1438.5C1690.5 1438.8 1693.0 1433.4 1694.9 1429.9C1697.4 1425.3 1699.7 1418.7 1701.8 1412.7C1704.0 1406.5 1705.6 1399.4 1707.6 1393.2C1709.4 1387.6 1711.1 1381.6 1713.3 1377.1C1715.0 1373.5 1716.7 1369.8 1719.0 1367.9C1720.7 1366.5 1722.9 1366.7 1724.8 1365.6C1726.9 1364.4 1729.0 1360.9 1731.1 1361.0C1733.3 1361.1 1735.1 1366.3 1737.4 1366.8C1739.5 1367.3 1742.3 1366.1 1744.3 1364.5C1747.1 1362.3 1749.1 1357.5 1751.2 1353.0C1753.8 1347.5 1755.9 1339.0 1758.1 1333.5C1759.7 1329.5 1760.9 1325.5 1762.7 1323.1C1763.9 1321.5 1765.3 1319.6 1766.7 1319.7C1768.4 1319.8 1770.4 1322.8 1771.8 1325.4C1773.9 1329.1 1774.8 1335.5 1776.4 1340.4C1777.9 1345.1 1779.0 1349.6 1781.0 1354.1C1783.1 1358.8 1787.0 1363.0 1789.1 1367.9C1791.3 1372.9 1792.4 1378.6 1793.7 1384.0C1795.0 1389.3 1795.7 1395.1 1797.1 1400.1C1798.4 1404.6 1799.7 1409.4 1801.7 1412.7C1803.3 1415.4 1805.6 1417.9 1807.4 1419.0C1808.6 1419.7 1809.6 1419.9 1810.9 1419.8C1812.6 1419.6 1814.9 1418.7 1816.6 1417.3C1818.8 1415.5 1820.8 1412.6 1822.3 1409.2C1824.3 1404.7 1825.3 1398.2 1826.4 1392.0C1827.7 1384.9 1828.2 1376.7 1829.2 1369.1C1830.3 1361.4 1831.4 1353.8 1832.7 1346.1C1834.1 1338.4 1835.4 1330.2 1837.3 1323.1C1838.9 1316.9 1840.4 1310.0 1843.0 1305.9C1844.8 1303.0 1847.3 1299.3 1849.5 1299.5C1852.3 1299.8 1855.6 1307.5 1857.9 1312.7C1860.8 1319.3 1861.7 1330.5 1864.5 1336.4C1866.4 1340.4 1868.9 1345.7 1871.1 1345.7C1873.3 1345.7 1875.6 1339.5 1877.7 1336.4C1879.8 1333.3 1881.9 1327.1 1883.8 1327.2C1885.9 1327.3 1887.3 1335.9 1889.6 1339.1C1891.5 1341.8 1894.2 1346.0 1896.2 1345.7C1898.6 1345.4 1901.0 1338.6 1902.8 1333.8C1905.2 1327.4 1905.5 1315.6 1908.1 1310.0C1909.8 1306.4 1912.1 1302.0 1914.1 1302.1C1916.5 1302.3 1919.1 1309.8 1921.3 1315.3C1924.5 1323.4 1925.9 1338.6 1929.2 1347.0C1931.5 1352.9 1934.5 1361.6 1937.1 1361.5C1939.8 1361.4 1943.0 1351.7 1945.0 1344.4C1948.3 1332.7 1948.3 1310.7 1950.3 1296.8C1951.9 1285.9 1952.5 1275.3 1955.6 1267.8C1957.9 1262.2 1962.2 1259.9 1964.8 1254.6C1968.1 1248.0 1969.6 1238.4 1972.7 1230.8C1975.8 1223.4 1980.4 1216.9 1983.3 1209.7C1986.1 1202.8 1986.9 1194.0 1989.9 1188.6C1992.1 1184.6 1995.3 1179.2 1997.8 1179.3C2000.2 1179.4 2001.9 1186.3 2004.4 1188.6C2006.4 1190.5 2008.8 1192.9 2011.0 1192.5C2013.7 1192.1 2016.6 1187.0 2018.9 1183.3C2021.6 1178.9 2022.8 1170.4 2025.5 1167.5C2027.1 1165.8 2029.1 1164.4 2030.8 1164.8C2033.1 1165.3 2035.1 1169.8 2037.4 1172.7C2040.0 1175.9 2042.2 1181.4 2045.3 1183.3C2047.7 1184.8 2050.6 1185.1 2053.3 1184.6C2056.4 1184.0 2059.6 1181.4 2062.5 1179.3C2065.4 1177.2 2067.5 1172.5 2070.5 1172.2C2073.7 1171.8 2078.0 1175.4 2081.0 1178.0C2084.2 1180.8 2087.0 1184.8 2088.9 1188.6C2090.7 1192.2 2091.5 1195.4 2092.5 1200.0C2094.0 1206.7 2095.0 1217.1 2096.0 1225.0C2096.9 1232.0 2097.5 1239.2 2098.5 1245.0C2099.3 1249.5 2099.9 1253.7 2101.0 1257.0C2101.8 1259.4 2102.8 1261.5 2104.0 1263.0C2105.0 1264.3 2106.4 1266.0 2107.5 1265.9C2108.8 1265.7 2109.9 1262.8 2111.0 1261.0C2112.2 1258.9 2113.1 1256.3 2114.1 1254.1C2115.1 1252.0 2115.9 1249.4 2117.0 1248.0C2117.7 1247.1 2118.6 1246.2 2119.4 1246.2C2120.2 1246.2 2121.2 1247.1 2122.0 1248.0C2123.1 1249.3 2123.8 1251.3 2124.7 1254.1C2126.4 1259.4 2128.3 1272.1 2129.9 1277.8C2130.8 1281.1 2131.4 1283.6 2132.5 1285.5C2133.3 1286.8 2134.3 1288.4 2135.2 1288.4C2136.1 1288.4 2137.2 1286.4 2138.0 1285.0C2139.1 1283.1 2139.7 1280.9 2140.5 1277.8C2141.9 1272.6 2142.8 1261.7 2144.5 1256.7C2145.5 1253.7 2146.5 1251.6 2148.0 1250.0C2149.2 1248.7 2150.5 1248.0 2152.4 1247.5C2155.5 1246.7 2161.5 1247.0 2165.6 1247.5C2169.3 1248.0 2172.3 1250.3 2176.1 1250.1C2180.9 1249.9 2186.7 1246.6 2192.0 1244.8C2197.3 1243.0 2202.6 1241.8 2207.8 1239.5C2213.2 1237.1 2218.6 1233.5 2223.6 1230.3C2228.3 1227.3 2232.4 1223.8 2236.8 1221.1C2240.8 1218.6 2248.7 1214.5 2248.7 1214.5" fill="none" stroke="#ff0000" stroke-width="13.5" stroke-linejoin="round" />
<path d="M141.0 811.5C141.0 811.5 167.7 806.9 180.0 805.0C191.1 803.3 199.6 801.7 211.8 800.6C228.1 799.1 252.9 798.5 269.2 798.3C281.3 798.2 292.2 798.4 300.8 798.9C306.8 799.3 311.1 799.7 316.0 800.5C320.7 801.3 325.4 801.5 329.5 803.5C333.8 805.6 337.3 809.5 341.0 813.0C345.0 816.8 349.2 821.5 352.5 825.6C355.4 829.1 357.6 832.4 360.0 836.0C362.4 839.6 364.3 842.3 366.8 847.1C371.0 855.3 376.6 869.6 381.2 881.6C386.2 894.4 390.7 908.4 395.5 921.8C400.3 935.2 405.2 948.1 409.9 962.0C414.8 976.7 419.0 992.4 424.2 1007.9C429.5 1024.0 435.0 1041.4 441.5 1056.7C447.6 1071.0 455.7 1084.2 461.6 1097.3C467.0 1109.2 471.4 1123.4 475.9 1131.8C478.7 1137.1 481.1 1140.1 484.0 1144.0C486.8 1147.8 489.6 1150.2 493.1 1154.7C498.6 1161.6 507.4 1175.6 513.2 1182.0C516.8 1186.0 519.6 1188.3 523.0 1191.0C526.3 1193.6 529.9 1195.8 533.3 1197.8C536.4 1199.6 539.3 1201.4 542.5 1202.5C545.6 1203.5 548.8 1204.0 552.0 1204.1C555.2 1204.2 558.4 1203.8 561.5 1203.0C564.6 1202.2 567.6 1201.1 570.7 1199.2C574.5 1196.9 578.3 1193.0 582.0 1189.5C585.9 1185.8 589.1 1182.5 593.6 1177.7C600.0 1170.8 610.1 1158.3 616.6 1151.9C620.9 1147.7 624.1 1145.0 628.0 1142.0C631.8 1139.1 634.9 1136.9 639.6 1134.1C646.4 1130.1 659.1 1123.8 665.4 1120.9C669.0 1119.3 671.1 1118.3 674.0 1117.5C676.8 1116.7 679.5 1116.0 682.6 1116.0C686.1 1116.0 690.2 1117.4 694.0 1118.0C697.8 1118.6 702.1 1120.3 705.6 1119.7C708.7 1119.2 711.2 1117.2 714.0 1115.5C717.0 1113.6 719.9 1110.9 722.8 1108.8C725.5 1106.9 728.2 1104.6 731.0 1103.5C733.4 1102.5 736.1 1101.8 738.4 1102.1C740.6 1102.4 742.7 1103.6 744.5 1105.0C746.5 1106.5 748.3 1108.7 749.9 1111.2C751.8 1114.2 753.1 1117.9 754.5 1122.0C756.2 1126.9 757.5 1132.1 759.0 1138.8C761.2 1148.6 763.9 1162.5 765.9 1175.5C768.2 1189.9 770.0 1210.0 771.7 1221.5C772.7 1228.4 773.4 1233.1 774.5 1238.0C775.4 1242.1 775.9 1245.6 777.4 1249.0C778.8 1252.3 781.0 1255.2 783.0 1258.0C784.9 1260.6 787.0 1262.7 788.9 1265.1C790.7 1267.4 792.2 1270.0 794.0 1272.0C795.6 1273.8 797.5 1276.6 799.2 1276.6C801.0 1276.6 802.9 1274.0 804.5 1272.0C806.5 1269.6 807.7 1266.4 809.6 1262.8C812.2 1257.7 816.2 1248.0 818.7 1244.4C819.9 1242.7 820.8 1241.8 822.0 1241.0C823.1 1240.3 824.5 1239.6 825.6 1239.8C826.8 1240.0 828.0 1241.3 829.0 1242.5C830.3 1244.1 831.3 1246.4 832.5 1249.0C834.3 1252.7 836.7 1259.9 838.3 1262.8C839.1 1264.3 839.6 1265.3 840.5 1266.0C841.2 1266.5 842.1 1267.2 842.8 1266.9C844.0 1266.4 844.7 1262.8 845.5 1260.0C846.7 1255.9 847.6 1251.0 848.6 1244.4C850.3 1233.2 851.7 1213.8 853.2 1198.5C854.7 1183.2 856.1 1167.9 857.8 1152.6C859.5 1137.3 861.0 1120.8 863.5 1106.7C865.7 1094.3 868.6 1081.6 871.5 1072.2C873.6 1065.4 875.5 1060.2 878.0 1055.0C880.2 1050.4 882.4 1046.1 885.3 1042.4C888.1 1038.8 891.8 1035.8 895.0 1033.0C897.9 1030.5 900.7 1028.1 903.7 1026.3C906.5 1024.6 909.2 1023.8 912.3 1022.3C916.1 1020.5 920.6 1018.7 925.0 1016.5C930.1 1014.0 936.2 1010.9 941.0 1007.9C945.1 1005.3 948.3 1002.8 952.0 1000.0C955.9 997.1 959.7 993.7 963.9 990.7C968.3 987.5 973.2 984.4 978.0 981.5C982.8 978.6 987.5 975.8 992.7 973.4C998.2 970.8 1003.8 968.9 1010.0 966.5C1017.1 963.7 1026.4 960.7 1032.9 957.6C1038.0 955.2 1041.5 952.9 1046.0 950.0C1051.0 946.8 1056.2 942.9 1061.6 939.0C1067.5 934.8 1073.8 930.0 1080.0 925.5C1086.3 920.9 1093.0 915.7 1098.9 911.7C1103.9 908.4 1108.2 905.6 1113.0 903.0C1117.8 900.4 1121.9 898.4 1127.6 895.9C1135.3 892.5 1146.1 889.0 1155.2 885.1C1164.4 881.2 1175.1 875.8 1182.5 872.6C1187.4 870.5 1190.8 868.9 1195.0 867.5C1199.1 866.1 1202.8 865.1 1207.6 864.2C1213.7 863.0 1221.6 862.0 1228.6 861.7C1235.6 861.4 1242.2 861.4 1249.5 862.1C1257.5 862.8 1266.0 864.9 1274.7 866.3C1284.1 867.8 1294.2 870.0 1304.0 870.5C1313.7 871.0 1323.4 870.4 1333.3 869.4C1343.6 868.4 1354.3 866.1 1364.8 864.2C1375.3 862.3 1386.8 859.5 1396.2 857.9C1403.9 856.6 1410.4 855.5 1417.1 854.8C1423.3 854.1 1429.9 853.3 1435.0 853.5C1438.8 853.6 1441.9 854.1 1445.0 855.0C1447.9 855.8 1450.9 856.7 1452.9 858.6C1454.9 860.4 1455.8 863.2 1457.0 866.0C1458.3 869.2 1458.5 873.5 1460.2 877.0C1462.0 880.8 1465.2 884.6 1468.0 888.0C1470.7 891.3 1474.4 893.3 1476.7 897.2C1479.5 902.0 1479.9 910.7 1482.2 915.5C1483.9 919.0 1485.8 921.5 1488.0 924.0C1490.1 926.4 1493.2 928.1 1495.1 930.2C1496.7 931.9 1498.0 933.5 1499.0 935.5C1500.1 937.7 1500.5 939.3 1501.0 943.0C1502.4 952.5 1501.8 976.2 1502.5 995.1C1503.4 1017.5 1504.6 1045.9 1506.1 1068.6C1507.4 1088.3 1509.5 1105.3 1510.7 1123.7C1511.9 1142.1 1512.5 1163.0 1513.5 1178.8C1514.3 1190.7 1515.1 1201.0 1516.0 1210.0C1516.7 1216.8 1516.9 1223.1 1518.0 1228.0C1518.8 1231.6 1519.9 1234.4 1521.0 1237.0C1521.9 1239.1 1522.6 1240.6 1524.0 1242.5C1525.9 1245.0 1529.6 1248.2 1531.8 1250.4C1533.4 1252.0 1534.5 1253.3 1536.0 1254.5C1537.4 1255.7 1538.9 1257.7 1540.5 1257.8C1542.1 1257.9 1544.0 1256.4 1545.5 1255.0C1547.4 1253.2 1549.1 1250.0 1550.2 1247.0C1551.5 1243.5 1551.8 1239.6 1552.5 1235.0C1553.4 1229.0 1554.0 1220.8 1554.8 1214.0C1555.5 1207.5 1556.2 1201.1 1557.0 1195.0C1557.7 1189.4 1558.6 1184.2 1559.4 1178.8C1560.2 1173.5 1560.9 1167.4 1562.0 1163.0C1562.8 1159.8 1563.3 1156.5 1564.9 1154.9C1566.2 1153.6 1568.2 1153.3 1570.0 1153.0C1571.9 1152.7 1574.3 1154.2 1575.9 1153.3C1577.8 1152.3 1578.8 1148.8 1580.0 1146.0C1581.4 1142.7 1582.3 1139.4 1583.5 1134.9C1585.2 1128.3 1587.2 1115.7 1588.8 1110.0C1589.7 1106.9 1590.5 1105.8 1591.3 1103.0C1592.4 1099.0 1593.2 1092.0 1594.5 1088.0C1595.5 1085.2 1596.6 1083.0 1597.8 1081.0C1598.8 1079.3 1599.9 1077.2 1601.0 1076.5C1601.7 1076.0 1602.6 1075.7 1603.3 1076.0C1604.3 1076.4 1605.2 1078.3 1606.0 1080.0C1607.1 1082.4 1607.8 1084.9 1608.7 1089.1C1610.6 1098.2 1612.4 1118.2 1614.2 1132.8C1616.0 1147.3 1617.5 1162.5 1619.6 1176.4C1621.5 1189.3 1623.9 1203.8 1626.2 1213.5C1627.7 1219.8 1628.9 1224.8 1631.0 1229.0C1632.7 1232.3 1634.9 1236.7 1637.0 1237.0C1638.8 1237.3 1640.9 1234.9 1642.5 1233.0C1644.5 1230.7 1645.9 1227.1 1647.3 1223.6C1648.9 1219.6 1649.8 1214.9 1651.0 1210.0C1652.4 1204.2 1653.7 1197.4 1654.9 1190.9C1656.1 1184.1 1657.2 1177.4 1658.2 1170.0C1659.3 1161.7 1660.1 1153.6 1661.1 1143.7C1662.4 1131.0 1663.9 1109.5 1665.5 1100.0C1666.3 1095.3 1666.8 1092.0 1668.0 1089.5C1668.8 1087.8 1669.9 1085.8 1670.9 1085.8C1671.9 1085.8 1673.2 1088.2 1674.0 1090.0C1675.2 1092.5 1675.7 1095.5 1676.4 1100.0C1677.9 1109.4 1678.5 1129.1 1679.6 1143.7C1680.7 1158.2 1681.8 1174.7 1682.9 1187.3C1683.8 1196.9 1684.3 1206.5 1685.5 1212.7C1686.2 1216.4 1688.0 1221.5 1688.0 1221.5C1688.0 1221.5 1690.1 1217.5 1691.0 1215.0C1692.1 1212.0 1692.6 1208.8 1693.8 1204.7C1695.5 1198.8 1698.6 1190.2 1700.4 1182.9C1702.2 1175.7 1703.3 1166.4 1704.7 1161.1C1705.5 1158.1 1706.1 1155.7 1707.0 1154.0C1707.6 1152.8 1708.4 1151.3 1709.1 1151.3C1709.9 1151.3 1710.7 1153.5 1711.5 1155.0C1712.6 1157.2 1713.5 1160.9 1714.6 1163.3C1715.5 1165.3 1716.3 1167.2 1717.5 1168.5C1718.5 1169.6 1719.8 1171.0 1721.1 1170.9C1722.7 1170.8 1724.7 1168.1 1726.5 1166.5C1728.4 1164.8 1730.4 1161.0 1732.0 1161.1C1733.5 1161.2 1734.6 1164.7 1736.0 1166.0C1737.2 1167.1 1738.5 1168.9 1739.6 1168.7C1741.0 1168.5 1742.2 1165.0 1743.5 1163.0C1744.8 1161.0 1745.9 1158.6 1747.3 1156.7C1748.6 1155.0 1750.0 1153.3 1751.5 1152.0C1752.9 1150.8 1754.3 1149.8 1756.0 1149.1C1757.9 1148.4 1760.3 1148.2 1762.5 1148.0C1764.7 1147.8 1767.1 1147.2 1769.1 1148.0C1771.2 1148.8 1772.8 1151.0 1774.5 1153.0C1776.5 1155.3 1778.0 1157.9 1780.0 1161.1C1782.6 1165.4 1786.4 1171.7 1788.7 1176.4C1790.5 1180.2 1791.8 1183.2 1793.0 1187.0C1794.4 1191.2 1795.1 1195.2 1796.4 1200.4C1798.2 1207.7 1800.6 1219.9 1802.9 1226.6C1804.4 1230.9 1805.5 1234.7 1807.5 1237.0C1808.9 1238.7 1810.9 1240.4 1812.5 1240.3C1814.2 1240.2 1816.0 1237.8 1817.5 1236.0C1819.3 1233.9 1820.7 1231.8 1822.2 1228.2C1825.0 1221.7 1827.5 1208.5 1830.2 1199.1C1832.8 1190.1 1835.4 1178.0 1838.1 1172.7C1839.4 1170.1 1840.5 1168.6 1842.0 1167.5C1843.2 1166.6 1844.8 1165.8 1846.0 1166.1C1847.3 1166.4 1848.5 1168.1 1849.5 1169.5C1850.7 1171.1 1851.5 1173.1 1852.6 1175.4C1854.2 1178.7 1855.7 1185.4 1857.9 1187.3C1859.3 1188.5 1861.0 1188.3 1862.5 1188.5C1864.0 1188.7 1865.7 1188.0 1867.1 1188.6C1868.9 1189.4 1870.3 1192.1 1872.0 1193.5C1873.5 1194.7 1875.0 1196.6 1876.4 1196.5C1877.8 1196.4 1879.3 1194.1 1880.5 1192.5C1881.9 1190.7 1882.6 1188.3 1884.3 1185.9C1886.6 1182.7 1890.4 1179.1 1893.5 1175.4C1897.0 1171.3 1901.6 1166.5 1904.1 1162.2C1906.1 1158.7 1906.8 1155.7 1908.0 1152.0C1909.4 1147.8 1910.7 1141.8 1912.0 1138.4C1912.8 1136.3 1913.5 1134.6 1914.5 1133.5C1915.3 1132.6 1916.4 1131.7 1917.3 1131.8C1918.4 1132.0 1919.5 1133.9 1920.5 1135.5C1921.8 1137.6 1922.7 1140.3 1923.9 1143.7C1925.8 1149.1 1928.4 1160.1 1930.5 1164.8C1931.7 1167.4 1932.7 1169.2 1934.0 1170.5C1935.0 1171.4 1936.1 1172.4 1937.1 1172.2C1938.3 1172.0 1939.5 1170.1 1940.5 1168.5C1941.9 1166.3 1942.6 1163.3 1943.7 1159.5C1945.5 1153.1 1947.0 1141.9 1949.0 1133.1C1951.0 1124.3 1952.6 1115.4 1955.6 1106.7C1958.7 1097.8 1963.8 1089.1 1967.5 1080.3C1971.2 1071.5 1974.8 1062.3 1978.0 1053.9C1980.9 1046.3 1983.5 1039.1 1985.9 1032.1C1988.1 1025.5 1989.9 1018.1 1992.0 1013.0C1993.5 1009.4 1994.8 1006.9 1996.5 1004.0C1998.2 1001.2 1999.9 998.5 2002.0 996.0C2004.1 993.5 2006.9 991.6 2008.9 988.9C2011.1 986.0 2012.6 982.3 2014.5 979.0C2016.4 975.6 2018.3 971.2 2020.4 968.5C2022.0 966.4 2023.6 964.6 2025.5 963.5C2027.1 962.6 2028.8 961.8 2030.7 962.0C2033.2 962.3 2036.6 965.0 2038.8 966.6C2040.5 967.9 2041.6 969.5 2043.0 970.5C2044.2 971.3 2045.5 972.4 2046.8 972.3C2048.3 972.2 2050.0 970.4 2051.5 969.0C2053.1 967.4 2054.6 965.2 2056.0 963.2C2057.4 961.1 2058.7 959.0 2060.0 956.5C2061.4 953.7 2062.6 949.7 2064.0 947.1C2065.1 945.1 2066.2 943.2 2067.5 942.0C2068.5 941.1 2069.4 940.6 2070.9 940.2C2073.2 939.6 2077.8 940.7 2080.1 940.0C2081.8 939.5 2082.8 938.2 2084.0 937.5C2085.0 936.9 2086.0 935.8 2087.0 936.0C2088.2 936.2 2089.6 938.2 2090.5 940.0C2091.8 942.6 2092.3 946.1 2093.0 951.0C2094.4 960.4 2095.2 981.2 2096.2 993.0C2096.9 1001.5 2097.6 1007.4 2098.3 1015.0C2099.0 1023.1 2099.5 1033.2 2100.5 1040.0C2101.2 1044.8 2101.9 1049.4 2103.0 1052.0C2103.6 1053.4 2105.0 1055.0 2105.0 1055.0C2105.0 1055.0 2106.8 1048.8 2107.5 1045.0C2108.4 1040.0 2108.8 1033.6 2109.5 1027.5C2110.3 1020.9 2110.7 1011.7 2112.0 1007.0C2112.7 1004.3 2113.4 1002.2 2114.5 1001.0C2115.2 1000.2 2116.2 999.4 2117.0 999.5C2118.1 999.6 2119.4 1001.5 2120.3 1003.0C2121.4 1004.8 2121.8 1007.2 2122.5 1010.0C2123.4 1013.8 2124.2 1018.8 2125.0 1024.0C2125.9 1030.3 2126.6 1038.7 2127.5 1045.0C2128.3 1050.1 2128.8 1055.6 2130.0 1058.8C2130.7 1060.7 2131.5 1062.1 2132.5 1063.0C2133.3 1063.7 2134.5 1064.3 2135.2 1064.0C2136.3 1063.5 2136.9 1060.4 2137.5 1058.0C2138.4 1054.6 2138.8 1049.8 2139.5 1045.6C2140.3 1041.2 2141.0 1035.9 2142.1 1032.1C2142.9 1029.2 2143.7 1026.4 2145.0 1024.5C2146.0 1023.1 2147.0 1022.0 2148.5 1021.3C2150.2 1020.5 2152.9 1020.6 2155.0 1020.5C2157.0 1020.4 2159.2 1019.9 2161.0 1020.5C2162.8 1021.1 2164.3 1022.7 2166.0 1024.0C2167.8 1025.5 2169.6 1027.7 2171.5 1029.0C2173.1 1030.1 2174.8 1031.0 2176.5 1031.5C2178.1 1032.0 2179.3 1032.1 2181.3 1032.0C2184.7 1031.9 2190.7 1031.4 2194.8 1029.7C2198.9 1028.0 2201.8 1024.2 2205.8 1021.8C2210.0 1019.3 2215.0 1018.0 2219.3 1015.0C2224.0 1011.8 2228.1 1006.9 2232.8 1002.8C2237.8 998.4 2248.5 989.5 2248.5 989.5" fill="none" stroke="#008000" stroke-width="13.5" stroke-linejoin="round" />
<path d="M141.0 128.0C141.0 128.0 148.2 127.1 153.0 126.6C160.2 125.8 170.6 124.8 180.0 124.0C190.2 123.1 203.9 122.3 212.0 121.7C217.0 121.3 220.9 120.9 224.0 120.8C226.0 120.8 229.0 121.0 229.0 121.0L231.5 118.0L234.5 112.5L237.5 118.0L241.0 120.5C241.0 120.5 250.3 120.9 255.0 121.0C259.7 121.1 263.9 121.0 269.0 120.9C275.3 120.8 285.8 120.8 290.0 120.5C291.9 120.4 294.0 120.0 294.0 120.0L296.5 116.0L299.0 119.5L303.0 115.5L307.0 119.0L311.0 118.0L314.0 121.5L318.0 120.0C318.0 120.0 323.4 121.2 326.0 122.0C328.4 122.7 330.8 123.4 333.0 124.5C335.1 125.6 337.0 126.9 339.0 128.5C341.3 130.4 343.4 132.7 346.0 135.5C349.5 139.2 354.1 144.0 358.0 149.0C362.4 154.6 366.7 161.3 371.0 167.5C375.3 173.7 380.1 179.8 384.0 186.3C387.8 192.7 390.7 199.4 394.0 206.0C397.4 212.8 400.8 219.8 404.0 226.5C407.1 232.8 410.1 238.8 413.0 245.0C415.9 251.2 418.7 258.3 421.4 263.8C423.6 268.4 425.6 272.1 428.0 276.0C430.4 279.8 433.1 283.5 435.7 286.8C438.1 289.8 440.5 292.5 443.0 295.0C445.3 297.3 447.6 299.4 450.0 301.2C452.3 302.9 454.6 304.4 457.0 305.5C459.4 306.5 462.1 307.4 464.4 307.5C466.4 307.6 468.1 307.0 470.0 306.5C472.0 305.9 474.0 305.2 476.0 304.0C478.4 302.5 480.7 300.3 483.0 298.0C485.5 295.5 487.6 292.4 490.3 289.7C493.2 286.8 496.6 284.0 500.0 281.5C503.3 279.0 507.1 276.5 510.4 274.8C513.1 273.4 515.3 272.4 518.0 271.5C521.0 270.6 523.7 270.2 527.6 269.6C533.5 268.6 542.7 267.7 550.0 266.8C557.0 266.0 562.5 265.3 570.7 264.4C582.4 263.2 601.1 261.3 613.7 260.4C623.5 259.7 631.6 259.3 640.0 259.0C647.8 258.7 656.1 258.3 662.5 258.7C667.3 259.0 671.0 259.6 675.0 260.5C678.7 261.3 682.0 262.7 685.5 263.8C689.0 264.9 692.6 265.8 696.0 267.0C699.3 268.2 702.8 269.2 705.6 271.0C708.4 272.8 710.7 275.4 713.0 278.0C715.5 280.7 717.9 283.7 720.0 286.8C722.2 290.0 724.2 293.3 726.0 297.0C728.0 301.0 729.7 305.7 731.4 309.8C733.0 313.7 734.5 317.1 736.0 321.0C737.7 325.2 739.5 329.6 741.0 334.0C742.5 338.3 743.8 342.5 745.0 347.0C746.3 351.7 747.4 355.9 748.6 361.5C750.1 369.0 751.6 378.8 753.0 388.0C754.5 397.9 755.9 408.7 757.2 418.9C758.4 428.7 759.5 438.4 760.5 448.0C761.5 457.5 762.2 464.8 763.0 476.3C764.2 494.2 765.5 520.8 766.5 545.0C767.6 572.2 768.4 602.5 769.4 631.8C770.5 662.0 771.8 693.1 772.8 723.7C773.7 754.3 774.2 785.5 775.1 815.5C775.9 844.3 776.8 873.3 777.8 900.0C778.7 924.1 779.0 949.1 780.8 968.9C782.2 984.1 785.0 993.5 786.4 1009.0C788.4 1030.0 788.9 1059.3 790.0 1083.7C791.0 1107.1 791.7 1132.4 792.8 1152.6C793.6 1168.4 794.4 1182.7 795.5 1195.0C796.4 1204.6 798.5 1220.5 798.5 1220.5C798.5 1220.5 801.4 1204.6 802.5 1195.0C803.9 1182.7 804.4 1168.4 805.4 1152.6C806.6 1132.4 807.7 1107.5 809.1 1083.7C810.6 1057.9 812.3 1029.1 814.1 1003.3C815.7 979.4 818.0 953.4 819.2 934.4C820.0 921.0 820.3 911.9 821.0 900.0C821.7 887.2 822.6 873.8 823.5 860.0C824.5 845.2 826.8 814.0 826.8 814.0C826.8 814.0 828.6 828.8 829.5 838.5C830.8 852.5 832.4 871.0 833.5 890.0C834.8 913.5 835.3 943.3 836.2 968.9C837.0 993.2 837.7 1015.7 838.5 1040.0C839.4 1065.5 841.2 1118.5 841.2 1118.5C841.2 1118.5 842.9 1065.5 844.0 1040.0C845.0 1015.7 846.8 992.4 847.4 968.9C848.0 945.8 847.6 924.1 847.9 900.0C848.3 873.3 849.1 844.3 849.7 815.5C850.3 785.5 850.9 754.3 851.6 723.7C852.3 693.1 853.1 661.7 853.9 631.8C854.7 603.2 855.4 576.1 856.5 548.0C857.6 519.5 859.4 487.1 860.6 462.0C861.5 442.5 862.0 427.0 863.0 410.0C863.9 393.5 865.1 376.5 866.3 361.5C867.3 348.5 868.2 336.5 869.5 325.0C870.7 314.6 872.0 304.7 873.5 295.4C874.9 287.1 876.2 279.4 878.0 272.0C879.6 265.1 881.5 258.1 883.6 252.4C885.3 247.7 886.9 243.5 889.0 240.0C890.8 237.0 892.9 234.0 895.0 232.3C896.6 231.0 898.3 230.4 900.0 230.0C901.7 229.6 903.4 229.5 905.1 230.0C907.1 230.6 909.0 232.9 911.0 234.0C912.8 235.0 914.8 236.7 916.6 236.6C918.5 236.5 920.3 234.3 922.0 233.0C923.7 231.7 925.2 229.9 927.0 229.0C928.7 228.1 930.6 227.3 932.4 227.4C934.3 227.5 936.1 228.6 938.0 229.5C940.0 230.5 942.0 232.2 944.0 233.0C945.8 233.7 947.7 234.5 949.6 234.3C951.7 234.0 954.0 232.3 956.0 231.0C958.1 229.6 959.8 227.6 962.0 226.0C964.4 224.2 966.7 222.5 969.7 220.8C973.7 218.5 979.2 216.2 984.0 214.0C988.8 211.9 993.3 209.9 998.4 207.9C1004.2 205.6 1010.8 203.4 1017.0 201.0C1023.2 198.6 1030.1 196.1 1035.7 193.5C1040.6 191.2 1044.7 188.9 1049.0 186.5C1053.3 184.1 1057.5 181.3 1061.6 179.2C1065.4 177.2 1069.1 175.5 1073.0 174.0C1076.8 172.6 1080.5 171.3 1084.5 170.5C1088.8 169.6 1093.4 169.3 1098.0 169.0C1102.9 168.6 1106.8 168.6 1113.2 168.5C1123.9 168.4 1143.0 168.7 1156.3 169.1C1167.7 169.4 1179.9 170.8 1187.9 170.5C1192.9 170.3 1195.8 169.6 1200.0 169.0C1204.4 168.4 1208.2 167.3 1213.7 166.8C1222.0 166.0 1234.1 165.5 1245.3 165.7C1257.9 165.9 1273.2 167.2 1285.5 168.5C1295.9 169.6 1305.0 170.5 1314.2 172.5C1323.1 174.4 1331.9 177.0 1340.0 180.0C1347.6 182.9 1355.1 187.8 1361.5 190.0C1366.3 191.6 1370.8 191.7 1374.5 193.0C1377.4 194.0 1379.5 195.3 1382.0 196.5C1384.5 197.7 1386.9 199.4 1389.5 200.1C1391.9 200.8 1394.5 200.8 1397.0 201.0C1399.5 201.2 1402.3 200.5 1404.6 201.2C1406.9 201.9 1408.9 203.8 1411.0 205.5C1413.3 207.4 1415.3 209.9 1417.5 212.0C1419.6 214.1 1421.8 216.0 1424.0 218.0C1426.1 220.0 1428.6 221.6 1430.4 223.8C1432.2 226.0 1433.6 228.4 1435.0 231.0C1436.5 233.8 1437.9 236.7 1439.1 240.0C1440.5 243.9 1441.5 248.5 1442.5 253.0C1443.6 257.8 1444.6 262.8 1445.5 268.0C1446.4 273.7 1447.1 279.9 1447.8 286.0C1448.5 292.1 1449.1 297.1 1449.8 304.6C1450.8 316.0 1452.2 333.3 1453.1 347.6C1454.0 362.0 1454.5 376.3 1455.2 390.7C1455.9 405.1 1456.8 419.6 1457.4 433.8C1458.0 447.7 1458.5 458.0 1458.9 475.0C1459.6 502.4 1460.0 546.8 1460.6 582.7C1461.2 618.6 1461.8 654.4 1462.7 690.3C1463.6 726.2 1465.3 768.6 1466.0 798.0C1466.5 818.5 1466.4 830.5 1467.0 850.0C1467.8 875.1 1468.9 912.7 1470.5 936.0C1471.6 952.0 1472.8 965.5 1474.5 976.5C1475.7 984.2 1476.9 990.3 1478.5 996.0C1479.8 1000.7 1481.6 1008.5 1483.0 1008.5C1484.4 1008.5 1486.1 1000.7 1487.0 996.0C1488.1 990.3 1488.1 984.2 1488.5 976.5C1489.1 965.4 1489.4 949.4 1490.0 936.0C1490.5 922.9 1491.2 912.2 1491.8 897.2C1492.6 876.6 1492.9 849.6 1493.8 823.7C1494.8 794.8 1495.8 758.9 1497.5 731.8C1498.9 710.3 1502.5 674.0 1502.5 674.0C1502.5 674.0 1505.9 710.3 1507.0 731.8C1508.3 758.9 1508.2 794.8 1508.9 823.7C1509.5 849.6 1510.4 876.0 1510.7 897.2C1510.9 913.4 1510.5 923.8 1510.7 940.0C1511.0 961.2 1511.9 989.0 1512.6 1013.5C1513.3 1037.9 1514.7 1086.5 1514.7 1086.5C1514.7 1086.5 1517.8 1063.6 1519.0 1050.2C1520.5 1033.8 1521.7 1013.5 1522.7 995.1C1523.7 976.7 1524.3 957.2 1524.9 940.0C1525.5 924.8 1525.7 913.4 1526.3 897.2C1527.1 876.0 1528.3 845.1 1529.1 823.7C1529.8 807.1 1528.8 789.3 1530.9 779.6C1532.0 774.6 1534.3 773.5 1535.5 768.6C1537.6 760.0 1537.5 746.8 1538.3 731.8C1539.5 708.1 1540.2 667.0 1540.7 640.0C1541.1 618.7 1540.7 604.8 1541.3 582.7C1542.1 552.4 1544.4 504.4 1545.6 475.0C1546.4 454.5 1547.0 440.5 1547.8 423.0C1548.6 405.2 1549.5 387.1 1550.6 369.2C1551.7 351.2 1552.5 330.9 1554.3 315.3C1555.7 303.1 1557.4 292.9 1559.6 283.0C1561.5 274.4 1563.3 265.9 1566.1 259.3C1568.2 254.2 1571.0 249.8 1573.6 246.4C1575.7 243.7 1577.7 242.0 1580.0 240.0C1582.3 238.0 1585.3 236.2 1587.6 234.6C1589.5 233.3 1591.2 232.3 1593.0 231.0C1594.8 229.7 1596.8 228.6 1598.4 227.0C1600.1 225.4 1601.5 223.3 1603.0 221.5C1604.4 219.8 1605.5 218.0 1607.0 216.3C1608.5 214.5 1610.1 212.3 1612.0 211.0C1613.7 209.8 1615.9 208.6 1617.8 208.7C1619.6 208.8 1621.3 210.3 1623.0 211.5C1624.9 212.8 1626.9 214.5 1628.5 216.3C1630.1 218.0 1631.2 220.2 1632.5 222.0C1633.7 223.7 1634.8 226.9 1636.1 227.0C1637.3 227.1 1638.7 224.3 1640.0 223.0C1641.2 221.8 1642.3 220.6 1643.6 219.5C1645.0 218.3 1646.5 216.8 1648.0 216.0C1649.4 215.3 1650.9 214.4 1652.2 214.6C1653.7 214.9 1655.2 216.5 1656.5 218.0C1658.1 219.8 1659.7 222.3 1660.8 224.9C1661.9 227.6 1662.3 230.7 1663.0 234.0C1663.8 237.8 1664.4 241.5 1665.2 246.4C1666.4 253.5 1668.5 262.5 1669.5 272.3C1670.8 284.8 1670.9 301.0 1671.6 315.3C1672.3 329.7 1672.6 346.5 1673.8 358.4C1674.7 366.9 1676.3 374.9 1677.1 380.0C1677.5 382.8 1677.8 383.3 1678.1 386.4C1678.9 394.4 1679.7 411.7 1680.3 430.0C1681.4 460.9 1681.7 516.8 1682.5 554.6C1683.2 586.3 1683.7 613.4 1684.7 641.8C1685.7 669.0 1688.4 721.5 1688.4 721.5C1688.4 721.5 1691.8 669.0 1693.5 641.8C1695.3 613.4 1696.9 581.6 1698.9 554.6C1700.6 531.2 1702.8 507.9 1704.4 489.1C1705.6 475.0 1706.1 461.4 1707.6 452.0C1708.5 446.1 1710.9 437.8 1710.9 437.8C1710.9 437.8 1710.9 453.1 1711.3 460.0C1711.6 466.2 1712.2 471.8 1712.8 477.4C1713.3 482.6 1713.6 488.1 1714.6 492.4C1715.4 495.9 1716.7 497.8 1717.7 501.5C1719.2 507.2 1720.7 515.6 1721.9 523.4C1723.2 532.3 1724.2 543.7 1725.1 552.1C1725.8 558.6 1726.0 564.2 1726.9 569.3C1727.6 573.5 1728.6 576.7 1729.7 580.8C1731.0 585.5 1732.7 591.6 1734.3 596.0C1735.6 599.6 1738.3 605.5 1738.3 605.5C1738.3 605.5 1738.9 597.4 1739.3 592.3C1739.8 585.2 1740.0 574.3 1741.2 567.0C1742.2 561.3 1743.9 557.4 1745.2 552.1C1746.6 546.1 1748.0 538.9 1749.2 532.6C1750.3 526.7 1751.0 521.0 1752.1 515.3C1753.2 509.5 1754.1 502.5 1755.6 498.1C1756.6 495.2 1757.5 493.0 1759.0 491.2C1760.3 489.7 1762.3 489.5 1763.6 487.8C1765.4 485.4 1766.2 480.5 1767.6 477.4C1768.8 474.7 1770.3 469.9 1771.5 470.0C1772.8 470.1 1773.9 476.5 1775.0 480.3C1776.3 484.7 1777.4 490.0 1778.5 495.0C1779.7 500.2 1780.4 505.0 1781.8 510.9C1783.6 518.6 1786.6 528.1 1788.4 537.1C1790.3 546.3 1791.2 556.0 1792.7 565.5C1794.1 574.9 1795.3 585.0 1797.1 593.8C1798.7 601.6 1800.5 608.8 1802.6 615.6C1804.5 621.8 1806.8 627.6 1809.1 633.1C1811.2 638.1 1812.9 644.2 1815.6 647.3C1817.5 649.5 1819.9 651.5 1822.2 651.5C1824.6 651.5 1827.6 646.0 1829.8 646.7C1832.7 647.6 1834.5 655.9 1836.4 661.5C1838.7 668.4 1840.5 677.3 1841.8 685.5C1843.2 694.1 1843.7 701.6 1844.5 712.0C1845.7 726.6 1846.6 745.5 1847.6 764.9C1848.9 788.7 1850.2 817.8 1851.5 844.2C1852.8 870.6 1854.0 899.8 1855.5 923.5C1856.7 942.9 1857.5 961.4 1859.4 976.3C1860.8 987.4 1863.1 1005.0 1864.7 1005.0C1866.7 1004.9 1868.5 978.7 1870.0 963.1C1871.8 943.6 1872.7 920.0 1874.0 897.0C1875.4 871.8 1876.8 844.2 1877.9 817.8C1879.0 791.4 1879.5 764.9 1880.6 738.5C1881.7 712.1 1882.9 681.2 1884.5 659.3C1885.7 643.8 1886.2 627.9 1888.5 619.6C1889.6 615.6 1891.4 610.8 1892.5 611.0C1894.6 611.4 1895.2 633.2 1896.4 646.1C1897.9 661.9 1899.1 681.3 1900.4 698.9C1901.7 716.5 1902.5 735.2 1904.4 751.7C1906.1 766.3 1911.0 793.0 1911.0 793.0C1911.0 793.0 1913.9 775.8 1914.9 764.9C1916.3 750.1 1916.6 728.4 1917.6 712.1C1918.4 697.9 1918.9 683.2 1920.2 672.5C1921.1 665.1 1923.6 654.0 1923.6 654.0C1923.6 654.0 1927.0 665.1 1928.1 672.5C1929.7 683.2 1929.8 699.0 1930.8 712.1C1931.8 724.9 1934.0 750.0 1934.0 750.0C1934.0 750.0 1936.4 725.8 1937.4 712.1C1938.5 696.0 1939.4 676.6 1940.0 659.3C1940.6 642.5 1940.4 628.1 1940.9 609.6C1941.5 586.3 1942.2 555.6 1943.6 530.4C1944.9 507.4 1946.6 484.3 1948.8 464.4C1950.7 448.0 1953.0 430.5 1955.4 419.5C1956.9 412.9 1958.1 408.0 1960.0 404.0C1961.4 401.1 1962.9 397.4 1964.7 397.1C1966.3 396.8 1968.2 399.9 1970.0 401.0C1971.7 402.1 1973.7 404.2 1975.2 403.7C1977.4 402.9 1978.5 395.9 1980.0 392.0C1981.6 388.0 1982.6 383.2 1984.5 379.9C1986.1 377.1 1988.1 374.8 1990.0 373.0C1991.6 371.5 1993.5 371.5 1995.0 369.4C1998.0 365.2 1998.9 353.2 2001.6 345.6C2004.2 338.3 2006.5 329.2 2010.9 324.5C2014.4 320.8 2019.4 318.8 2024.1 317.9C2029.0 317.0 2035.3 317.7 2039.9 319.2C2044.0 320.5 2047.4 325.8 2050.5 325.8C2052.9 325.8 2055.0 323.5 2057.0 322.0C2059.0 320.5 2060.8 319.3 2062.4 316.6C2065.3 311.7 2065.8 298.3 2069.0 292.8C2071.2 289.1 2074.1 286.9 2076.9 284.9C2079.4 283.1 2082.4 280.3 2084.8 280.9C2087.8 281.7 2090.7 287.4 2092.7 292.8C2096.1 301.9 2096.6 317.5 2098.0 332.4C2099.9 351.6 2100.9 377.6 2102.0 398.4C2103.0 417.0 2104.0 434.5 2104.6 451.2C2105.1 466.3 2105.5 494.5 2105.5 494.5C2105.5 494.5 2109.8 447.7 2111.2 424.8C2112.5 402.5 2112.7 377.2 2113.8 358.8C2114.6 345.5 2114.6 332.2 2116.5 324.5C2117.5 320.3 2119.0 315.2 2120.4 315.2C2122.0 315.2 2124.3 322.0 2125.7 327.1C2127.9 335.0 2128.4 347.6 2129.7 358.8C2131.1 371.3 2132.2 385.8 2133.6 398.4C2134.9 409.8 2137.6 431.0 2137.6 431.0C2137.6 431.0 2141.6 410.6 2142.9 398.4C2144.5 383.0 2144.5 361.9 2145.5 345.6C2146.3 331.4 2147.0 318.5 2148.2 306.0C2149.3 294.8 2149.3 282.4 2152.1 274.3C2154.0 268.7 2156.7 263.7 2160.0 261.1C2162.7 259.1 2166.5 257.8 2169.3 258.5C2172.3 259.3 2174.0 264.1 2177.2 266.4C2180.9 269.0 2186.1 270.3 2190.4 273.0C2195.0 275.9 2198.8 280.1 2203.6 283.6C2208.9 287.5 2215.6 295.4 2220.8 295.4C2225.1 295.4 2228.2 289.7 2232.6 287.5C2237.4 285.2 2248.5 282.2 2248.5 282.2" fill="none" stroke="#000000" stroke-width="13.5" stroke-linejoin="round" />
</g>
<line x1="1477.5" y1="140.0" x2="1477.5" y2="289.0" stroke="#000" stroke-width="3" stroke-dasharray="3.7 1.2"/><line x1="1477.5" y1="289.0" x2="1477.5" y2="656.0" stroke="#000" stroke-width="3"/><line x1="1477.5" y1="656.0" x2="1477.5" y2="858.0" stroke="#000" stroke-width="3" stroke-dasharray="3.7 1.2"/><line x1="1477.5" y1="858.0" x2="1477.5" y2="1227.0" stroke="#000" stroke-width="3"/><line x1="1477.5" y1="1227.0" x2="1477.5" y2="1428.0" stroke="#000" stroke-width="3" stroke-dasharray="3.7 1.2"/><line x1="1477.5" y1="1428.0" x2="1477.5" y2="1516.7" stroke="#000" stroke-width="3"/>
<line x1="1636.4" y1="162.0" x2="1636.4" y2="187.0" stroke="#000" stroke-width="3" stroke-dasharray="3.7 1.2"/><line x1="1636.4" y1="187.0" x2="1636.4" y2="555.0" stroke="#000" stroke-width="3"/><line x1="1636.4" y1="555.0" x2="1636.4" y2="756.0" stroke="#000" stroke-width="3" stroke-dasharray="3.7 1.2"/><line x1="1636.4" y1="756.0" x2="1636.4" y2="1124.0" stroke="#000" stroke-width="3"/><line x1="1636.4" y1="1124.0" x2="1636.4" y2="1325.0" stroke="#000" stroke-width="3" stroke-dasharray="3.7 1.2"/><line x1="1636.4" y1="1325.0" x2="1636.4" y2="1537.7" stroke="#000" stroke-width="3"/>
<line x1="1808.5" y1="75.0" x2="1808.5" y2="289.0" stroke="#000" stroke-width="3" stroke-dasharray="3.7 1.2"/><line x1="1808.5" y1="289.0" x2="1808.5" y2="657.0" stroke="#000" stroke-width="3"/><line x1="1808.5" y1="657.0" x2="1808.5" y2="857.0" stroke="#000" stroke-width="3" stroke-dasharray="3.7 1.2"/><line x1="1808.5" y1="857.0" x2="1808.5" y2="1228.0" stroke="#000" stroke-width="3"/><line x1="1808.5" y1="1228.0" x2="1808.5" y2="1429.0" stroke="#000" stroke-width="3" stroke-dasharray="3.7 1.2"/><line x1="1808.5" y1="1429.0" x2="1808.5" y2="1451.7" stroke="#000" stroke-width="3"/>
<line x1="2085.0" y1="249.4" x2="1857.7" y2="259.2" stroke="#000" stroke-width="6.8"/><polygon points="1805.7,261.4 1859.0,245.1 1860.3,273.1" fill="#000"/>
<line x1="1908.0" y1="1510.4" x2="1679.0" y2="1520.2" stroke="#000" stroke-width="6.8"/><polygon points="1627.0,1522.4 1680.4,1506.1 1681.5,1534.1" fill="#000"/>
<line x1="1180.0" y1="1333.2" x2="1405.8" y2="1251.8" stroke="#000" stroke-width="6.8"/><polygon points="1454.7,1234.2 1408.6,1265.7 1399.2,1239.3" fill="#000"/>
<text x="147.5" y="1690.0" font-size="84" font-family="'Liberation Serif','Times New Roman',serif" font-weight="bold" fill="#000" style="font-kerning:none" text-anchor="middle">4000</text>
<text x="450.9" y="1690.0" font-size="84" font-family="'Liberation Serif','Times New Roman',serif" font-weight="bold" fill="#000" style="font-kerning:none" text-anchor="middle">3500</text>
<text x="754.3" y="1690.0" font-size="84" font-family="'Liberation Serif','Times New Roman',serif" font-weight="bold" fill="#000" style="font-kerning:none" text-anchor="middle">3000</text>
<text x="1057.8" y="1690.0" font-size="84" font-family="'Liberation Serif','Times New Roman',serif" font-weight="bold" fill="#000" style="font-kerning:none" text-anchor="middle">2500</text>
<text x="1361.2" y="1690.0" font-size="84" font-family="'Liberation Serif','Times New Roman',serif" font-weight="bold" fill="#000" style="font-kerning:none" text-anchor="middle">2000</text>
<text x="1664.6" y="1690.0" font-size="84" font-family="'Liberation Serif','Times New Roman',serif" font-weight="bold" fill="#000" style="font-kerning:none" text-anchor="middle">1500</text>
<text x="1968.0" y="1690.0" font-size="84" font-family="'Liberation Serif','Times New Roman',serif" font-weight="bold" fill="#000" style="font-kerning:none" text-anchor="middle">1000</text>
<text x="766" y="1836" font-size="90" letter-spacing="0.3" font-family="'Liberation Serif','Times New Roman',serif" font-weight="bold" fill="#000" style="font-kerning:none">Wavenumber(cm<tspan dy="-44">-1</tspan><tspan dy="44">)</tspan></text>
<text transform="translate(76,1081.5) rotate(-90)" font-size="90" letter-spacing="0.45" font-family="'Liberation Serif','Times New Roman',serif" font-weight="bold" fill="#000" style="font-kerning:none">Transmittance</text>
<text transform="translate(1069.0,259.0) scale(0.971,1)" font-size="70" font-family="'Liberation Serif','Times New Roman',serif" font-weight="bold" fill="#000" style="font-kerning:none" >DACC</text>
<text transform="translate(1033.0,546.0) scale(0.971,1)" font-size="70" font-family="'Liberation Serif','Times New Roman',serif" font-weight="bold" fill="#000" style="font-kerning:none" >EDA-NIPU</text>
<text transform="translate(1065.5,719.0) scale(0.971,1)" font-size="70" font-family="'Liberation Serif','Times New Roman',serif" font-weight="bold" fill="#000" style="font-kerning:none" >TEPA-NIPU</text>
<text transform="translate(1075.5,850.6) scale(0.971,1)" font-size="70" font-family="'Liberation Serif','Times New Roman',serif" font-weight="bold" fill="#000" style="font-kerning:none" >DETA-NIPU</text>
<text transform="translate(1055.0,990.8) scale(0.971,1)" font-size="70" font-family="'Liberation Serif','Times New Roman',serif" font-weight="bold" fill="#000" style="font-kerning:none" >HMDA-NIPU</text>
<text transform="translate(1068.0,1133.7) scale(0.971,1)" font-size="70" font-family="'Liberation Serif','Times New Roman',serif" font-weight="bold" fill="#000" style="font-kerning:none" >TETA-NIPU</text>
<text x="1905.0" y="247.0" font-size="69" font-family="'Liberation Serif','Times New Roman',serif" font-weight="bold" fill="#000" style="font-kerning:none" >1255.50</text>
<text x="1738.5" y="1501.0" font-size="69" font-family="'Liberation Serif','Times New Roman',serif" font-weight="bold" fill="#000" style="font-kerning:none" >1535.00</text>
<text x="981.5" y="1398.7" font-size="69" font-family="'Liberation Serif','Times New Roman',serif" font-weight="bold" fill="#000" style="font-kerning:none" >1801.65</text>
</svg></body></html>
